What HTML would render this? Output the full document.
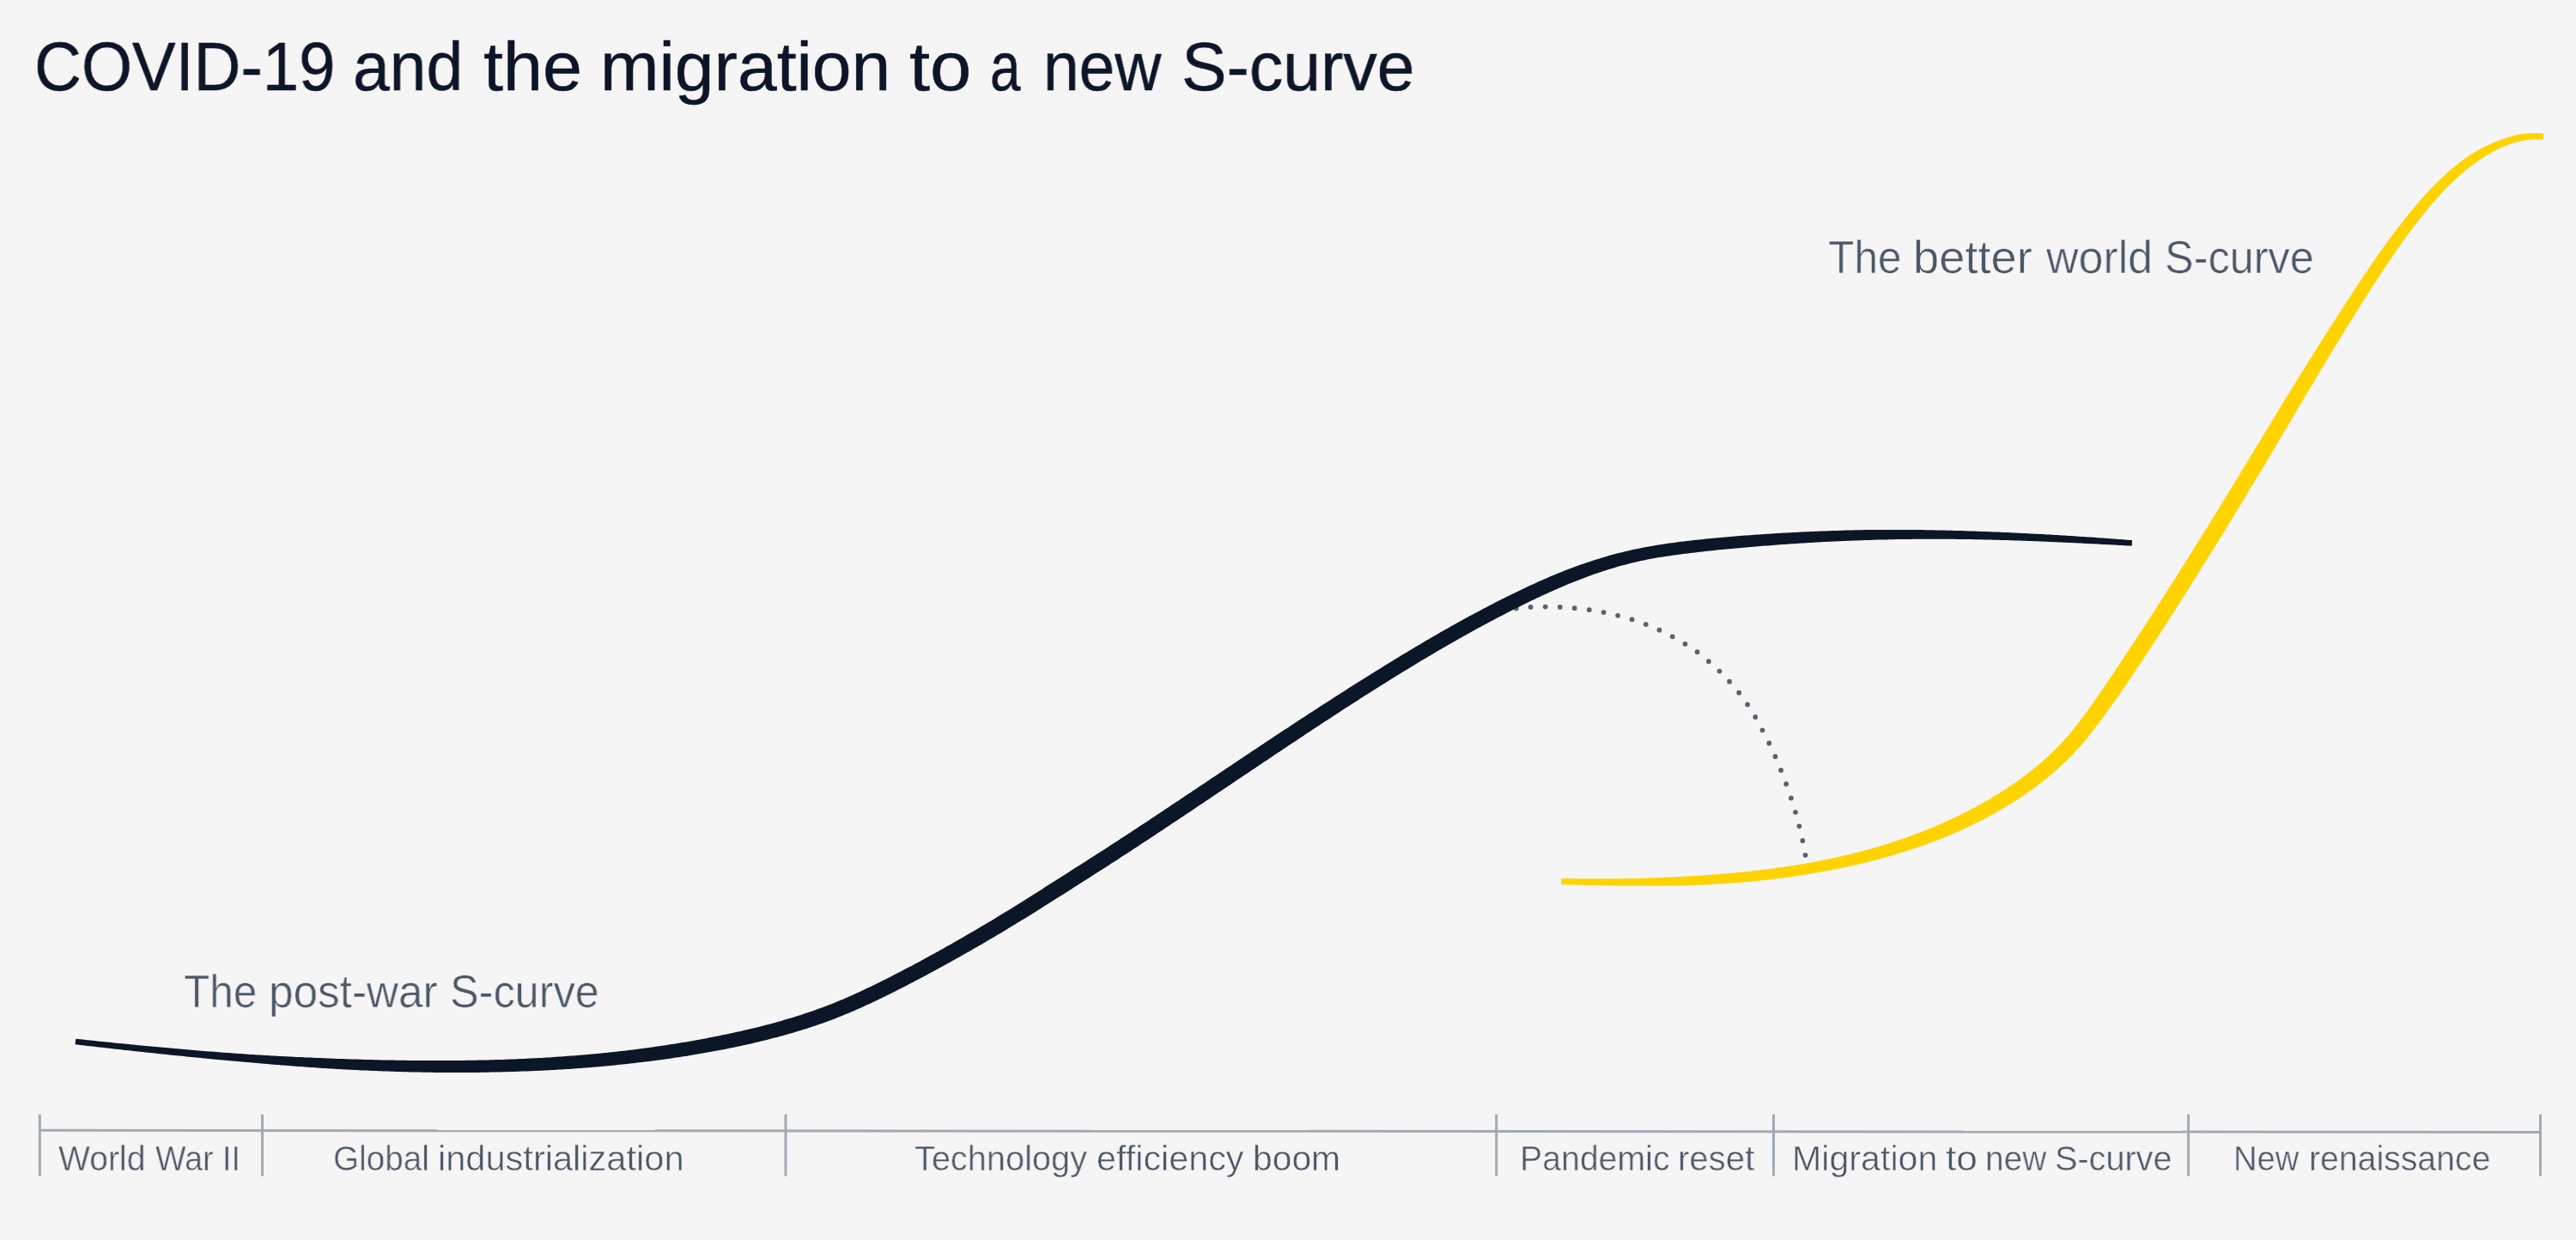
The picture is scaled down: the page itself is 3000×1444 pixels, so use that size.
<!DOCTYPE html>
<html><head><meta charset="utf-8"><style>
html,body{margin:0;padding:0;}
body{width:3000px;height:1444px;background:#f5f5f5;position:relative;overflow:hidden;font-family:"Liberation Sans",sans-serif;}
.t{position:absolute;white-space:nowrap;line-height:1;transform-origin:0 0;font-weight:400;will-change:transform;}
svg{position:absolute;left:0;top:0;}
</style></head><body>
<svg width="3000" height="1444" viewBox="0 0 3000 1444">
<g fill="#a2abb3"><polygon points="46.3,1314.8 2959.9,1316.9 2959.9,1319.9 46.3,1317.8"/><rect x="44.8" y="1297.7" width="3" height="71.8"/><rect x="304.0" y="1297.7" width="3" height="71.8"/><rect x="913.5" y="1297.7" width="3" height="71.8"/><rect x="1741.2" y="1297.7" width="3" height="71.8"/><rect x="2064.0" y="1297.7" width="3" height="71.8"/><rect x="2547.1" y="1297.7" width="3" height="71.8"/><rect x="2957.0" y="1297.7" width="3" height="71.8"/></g>
<g fill="#59636f"><circle cx="1765.8" cy="708.4" r="2.9"/><circle cx="1782.6" cy="706.9" r="2.9"/><circle cx="1799.7" cy="706.6" r="2.9"/><circle cx="1816.8" cy="706.9" r="2.9"/><circle cx="1833.7" cy="708.2" r="2.9"/><circle cx="1850.8" cy="710.2" r="2.9"/><circle cx="1867.6" cy="713.1" r="2.9"/><circle cx="1884.1" cy="716.8" r="2.9"/><circle cx="1900.6" cy="721.4" r="2.9"/><circle cx="1916.8" cy="727.1" r="2.9"/><circle cx="1932.5" cy="733.7" r="2.9"/><circle cx="1947.7" cy="741.3" r="2.9"/><circle cx="1962.5" cy="749.9" r="2.9"/><circle cx="1976.6" cy="759.2" r="2.9"/><circle cx="1989.9" cy="770.2" r="2.9"/><circle cx="2002.5" cy="781.6" r="2.9"/><circle cx="2014.1" cy="793.7" r="2.9"/><circle cx="2025.2" cy="806.7" r="2.9"/><circle cx="2035.1" cy="820.5" r="2.9"/><circle cx="2044.3" cy="835" r="2.9"/><circle cx="2052.5" cy="850.3" r="2.9"/><circle cx="2060.3" cy="865.5" r="2.9"/><circle cx="2067.5" cy="881" r="2.9"/><circle cx="2074.1" cy="897" r="2.9"/><circle cx="2080.1" cy="912.9" r="2.9"/><circle cx="2085.9" cy="929.4" r="2.9"/><circle cx="2091" cy="945.8" r="2.9"/><circle cx="2095.4" cy="962.1" r="2.9"/><circle cx="2099.3" cy="979" r="2.9"/><circle cx="2102.5" cy="995.8" r="2.9"/></g>
<path d="M87.5,1216.2 L90.3,1216.5 L93.2,1216.9 L96.0,1217.2 L98.8,1217.5 L101.6,1217.9 L104.4,1218.2 L107.3,1218.5 L110.1,1218.8 L112.9,1219.2 L115.7,1219.5 L118.5,1219.8 L121.3,1220.1 L124.2,1220.4 L127.0,1220.8 L129.8,1221.1 L132.6,1221.4 L135.4,1221.7 L138.3,1222.0 L141.1,1222.3 L143.9,1222.7 L146.7,1223.0 L149.5,1223.3 L152.4,1223.6 L155.2,1223.9 L158.0,1224.2 L160.8,1224.5 L163.6,1224.8 L166.5,1225.1 L169.3,1225.4 L172.1,1225.7 L174.9,1226.0 L177.7,1226.3 L180.6,1226.6 L183.4,1226.9 L186.2,1227.2 L189.0,1227.5 L191.9,1227.8 L194.7,1228.1 L197.5,1228.4 L200.3,1228.7 L203.1,1229.0 L206.0,1229.3 L208.8,1229.6 L211.6,1229.8 L214.4,1230.1 L217.3,1230.4 L220.1,1230.7 L222.9,1231.0 L225.7,1231.3 L228.6,1231.5 L231.4,1231.8 L234.2,1232.1 L237.0,1232.4 L239.9,1232.6 L242.7,1232.9 L245.5,1233.2 L248.3,1233.4 L251.2,1233.7 L254.0,1234.0 L256.8,1234.2 L259.6,1234.5 L262.5,1234.8 L265.3,1235.0 L268.1,1235.3 L270.9,1235.5 L273.8,1235.8 L276.6,1236.0 L279.4,1236.3 L282.2,1236.5 L285.1,1236.8 L287.9,1237.0 L290.7,1237.3 L293.5,1237.5 L296.4,1237.8 L299.2,1238.0 L302.0,1238.3 L304.9,1238.5 L307.7,1238.7 L310.5,1239.0 L313.3,1239.2 L316.2,1239.4 L319.0,1239.7 L321.8,1239.9 L324.7,1240.1 L327.5,1240.4 L330.3,1240.6 L333.1,1240.8 L336.0,1241.0 L338.8,1241.3 L341.6,1241.5 L344.5,1241.7 L347.3,1241.9 L350.1,1242.1 L353.0,1242.3 L355.8,1242.5 L358.6,1242.7 L361.5,1242.9 L364.3,1243.1 L367.1,1243.3 L370.0,1243.5 L372.8,1243.7 L375.6,1243.9 L378.5,1244.1 L381.3,1244.2 L384.1,1244.4 L387.0,1244.6 L389.8,1244.7 L392.6,1244.9 L395.5,1245.1 L398.3,1245.2 L401.1,1245.4 L404.0,1245.5 L406.8,1245.7 L409.6,1245.8 L412.5,1246.0 L415.3,1246.1 L418.1,1246.2 L421.0,1246.4 L423.8,1246.5 L426.7,1246.6 L429.5,1246.8 L432.3,1246.9 L435.2,1247.0 L438.0,1247.1 L440.8,1247.2 L443.7,1247.3 L446.5,1247.4 L449.4,1247.5 L452.2,1247.6 L455.0,1247.7 L457.9,1247.8 L460.7,1247.9 L463.6,1248.0 L466.4,1248.1 L469.2,1248.2 L472.1,1248.2 L474.9,1248.3 L477.8,1248.4 L480.6,1248.4 L483.4,1248.5 L486.3,1248.6 L489.1,1248.6 L492.0,1248.7 L494.8,1248.7 L497.6,1248.8 L500.5,1248.8 L503.3,1248.8 L506.2,1248.9 L509.0,1248.9 L511.9,1248.9 L514.7,1248.9 L517.5,1249.0 L520.4,1249.0 L523.2,1249.0 L526.1,1249.0 L528.9,1249.0 L531.8,1249.0 L534.6,1249.0 L537.5,1249.0 L540.3,1249.0 L543.1,1249.0 L546.0,1249.0 L548.8,1248.9 L551.7,1248.9 L554.5,1248.9 L557.4,1248.9 L560.2,1248.8 L563.1,1248.8 L565.9,1248.7 L568.8,1248.7 L571.6,1248.6 L574.4,1248.6 L577.3,1248.5 L580.1,1248.5 L583.0,1248.4 L585.8,1248.3 L588.7,1248.3 L591.5,1248.2 L594.4,1248.1 L597.2,1248.0 L600.1,1247.9 L602.9,1247.8 L605.7,1247.7 L608.6,1247.6 L611.4,1247.5 L614.3,1247.4 L617.1,1247.3 L620.0,1247.2 L622.8,1247.1 L625.7,1246.9 L628.5,1246.8 L631.4,1246.7 L634.2,1246.5 L637.0,1246.4 L639.9,1246.2 L642.7,1246.1 L645.6,1245.9 L648.4,1245.7 L651.3,1245.6 L654.1,1245.4 L656.9,1245.2 L659.8,1245.0 L662.6,1244.9 L665.5,1244.7 L668.3,1244.5 L671.1,1244.3 L674.0,1244.1 L676.8,1243.9 L679.7,1243.6 L682.5,1243.4 L685.3,1243.2 L688.2,1243.0 L691.0,1242.7 L693.9,1242.5 L696.7,1242.2 L699.5,1242.0 L702.4,1241.7 L705.2,1241.5 L708.0,1241.2 L710.9,1241.0 L713.7,1240.7 L716.6,1240.4 L719.4,1240.1 L722.2,1239.8 L725.1,1239.5 L727.9,1239.2 L730.7,1238.9 L733.5,1238.6 L736.4,1238.3 L739.2,1238.0 L742.0,1237.6 L744.9,1237.3 L747.7,1237.0 L750.5,1236.6 L753.4,1236.3 L756.2,1235.9 L759.0,1235.6 L761.8,1235.2 L764.7,1234.8 L767.5,1234.4 L770.3,1234.1 L773.1,1233.7 L776.0,1233.3 L778.8,1232.9 L781.6,1232.5 L784.4,1232.0 L787.2,1231.6 L790.1,1231.2 L792.9,1230.8 L795.7,1230.3 L798.5,1229.9 L801.3,1229.4 L804.1,1229.0 L807.0,1228.5 L809.8,1228.0 L812.6,1227.6 L815.4,1227.1 L818.2,1226.6 L821.0,1226.1 L823.8,1225.6 L826.6,1225.1 L829.5,1224.6 L832.3,1224.1 L835.1,1223.5 L837.9,1223.0 L840.7,1222.5 L843.5,1221.9 L846.3,1221.4 L849.1,1220.8 L851.9,1220.2 L854.7,1219.7 L857.5,1219.1 L860.3,1218.5 L863.1,1217.9 L865.9,1217.3 L868.7,1216.7 L871.5,1216.0 L874.3,1215.4 L877.1,1214.8 L879.8,1214.1 L882.6,1213.5 L885.4,1212.8 L888.2,1212.1 L891.0,1211.4 L893.8,1210.7 L896.5,1210.0 L899.3,1209.3 L902.1,1208.6 L904.9,1207.9 L907.6,1207.1 L910.4,1206.4 L913.2,1205.6 L915.9,1204.8 L918.7,1204.1 L921.4,1203.3 L924.2,1202.5 L926.9,1201.6 L929.7,1200.8 L932.4,1200.0 L935.2,1199.1 L937.9,1198.3 L940.6,1197.4 L943.3,1196.5 L946.1,1195.6 L948.8,1194.7 L951.5,1193.8 L954.2,1192.8 L956.9,1191.9 L959.6,1190.9 L962.3,1189.9 L965.0,1188.9 L967.7,1187.9 L970.4,1186.9 L973.1,1185.9 L975.8,1184.8 L978.5,1183.8 L981.1,1182.7 L983.8,1181.6 L986.4,1180.5 L989.1,1179.4 L991.7,1178.3 L994.4,1177.2 L997.0,1176.0 L999.6,1174.8 L1002.3,1173.7 L1004.9,1172.5 L1007.5,1171.3 L1010.1,1170.1 L1012.7,1168.9 L1015.3,1167.7 L1017.9,1166.5 L1020.5,1165.2 L1023.0,1164.0 L1025.6,1162.8 L1028.2,1161.5 L1030.7,1160.3 L1033.3,1159.0 L1035.9,1157.7 L1038.4,1156.5 L1041.0,1155.2 L1043.5,1153.9 L1046.1,1152.6 L1048.6,1151.3 L1051.2,1150.0 L1053.7,1148.7 L1056.3,1147.4 L1058.8,1146.1 L1061.3,1144.8 L1063.9,1143.5 L1066.4,1142.1 L1068.9,1140.8 L1071.4,1139.5 L1073.9,1138.2 L1076.5,1136.8 L1079.0,1135.5 L1081.5,1134.1 L1084.0,1132.8 L1086.5,1131.4 L1089.0,1130.1 L1091.5,1128.7 L1094.0,1127.3 L1096.5,1126.0 L1099.0,1124.6 L1101.5,1123.2 L1104.0,1121.8 L1106.5,1120.5 L1109.0,1119.1 L1111.4,1117.7 L1113.9,1116.3 L1116.4,1114.9 L1118.9,1113.5 L1121.4,1112.1 L1123.8,1110.7 L1126.3,1109.3 L1128.8,1107.9 L1131.3,1106.5 L1133.7,1105.1 L1136.2,1103.6 L1138.7,1102.2 L1141.1,1100.8 L1143.6,1099.4 L1146.0,1097.9 L1148.5,1096.5 L1150.9,1095.1 L1153.4,1093.6 L1155.9,1092.2 L1158.3,1090.7 L1160.7,1089.3 L1163.2,1087.8 L1165.6,1086.4 L1168.1,1084.9 L1170.5,1083.4 L1173.0,1082.0 L1175.4,1080.5 L1177.8,1079.0 L1180.3,1077.6 L1182.7,1076.1 L1185.1,1074.6 L1187.6,1073.1 L1190.0,1071.6 L1192.4,1070.2 L1194.8,1068.7 L1197.2,1067.2 L1199.7,1065.7 L1202.1,1064.2 L1204.5,1062.7 L1206.9,1061.2 L1209.3,1059.7 L1211.7,1058.2 L1214.1,1056.6 L1216.5,1055.1 L1218.9,1053.6 L1221.4,1052.1 L1223.8,1050.6 L1226.1,1049.1 L1228.5,1047.5 L1230.9,1046.0 L1233.3,1044.5 L1235.7,1043.0 L1238.1,1041.5 L1240.5,1039.9 L1242.9,1038.4 L1245.3,1036.9 L1247.7,1035.4 L1250.1,1033.8 L1252.5,1032.3 L1254.9,1030.8 L1257.2,1029.3 L1259.6,1027.8 L1262.0,1026.2 L1264.4,1024.7 L1266.8,1023.2 L1269.2,1021.7 L1271.6,1020.1 L1274.0,1018.6 L1276.4,1017.1 L1278.8,1015.6 L1281.2,1014.0 L1283.6,1012.5 L1286.0,1011.0 L1288.3,1009.4 L1290.7,1007.9 L1293.1,1006.3 L1295.5,1004.8 L1297.9,1003.3 L1300.3,1001.7 L1302.7,1000.2 L1305.0,998.6 L1307.4,997.1 L1309.8,995.5 L1312.2,994.0 L1314.6,992.4 L1316.9,990.9 L1319.3,989.3 L1321.7,987.8 L1324.1,986.2 L1326.4,984.7 L1328.8,983.1 L1331.2,981.5 L1333.5,980.0 L1335.9,978.4 L1338.3,976.9 L1340.7,975.3 L1343.0,973.7 L1345.4,972.2 L1347.8,970.6 L1350.1,969.0 L1352.5,967.5 L1354.9,965.9 L1357.2,964.3 L1359.6,962.8 L1361.9,961.2 L1364.3,959.6 L1366.7,958.0 L1369.0,956.5 L1371.4,954.9 L1373.8,953.3 L1376.1,951.8 L1378.5,950.2 L1380.8,948.6 L1383.2,947.0 L1385.6,945.5 L1387.9,943.9 L1390.3,942.3 L1392.6,940.7 L1395.0,939.1 L1397.3,937.6 L1399.7,936.0 L1402.1,934.4 L1404.4,932.8 L1406.8,931.2 L1409.1,929.7 L1411.5,928.1 L1413.8,926.5 L1416.2,924.9 L1418.5,923.3 L1420.9,921.8 L1423.2,920.2 L1425.6,918.6 L1428.0,917.0 L1430.3,915.4 L1432.7,913.9 L1435.0,912.3 L1437.4,910.7 L1439.7,909.1 L1442.1,907.5 L1444.4,906.0 L1446.8,904.4 L1449.1,902.8 L1451.5,901.2 L1453.8,899.7 L1456.2,898.1 L1458.5,896.5 L1460.9,894.9 L1463.3,893.3 L1465.6,891.8 L1468.0,890.2 L1470.3,888.6 L1472.7,887.0 L1475.0,885.4 L1477.4,883.9 L1479.7,882.3 L1482.1,880.7 L1484.4,879.1 L1486.8,877.6 L1489.1,876.0 L1491.5,874.4 L1493.9,872.8 L1496.2,871.3 L1498.6,869.7 L1500.9,868.1 L1503.3,866.6 L1505.6,865.0 L1508.0,863.4 L1510.3,861.9 L1512.7,860.3 L1515.1,858.7 L1517.4,857.2 L1519.8,855.6 L1522.1,854.0 L1524.5,852.5 L1526.9,850.9 L1529.2,849.3 L1531.6,847.8 L1534.0,846.2 L1536.3,844.7 L1538.7,843.1 L1541.0,841.6 L1543.4,840.0 L1545.8,838.5 L1548.1,836.9 L1550.5,835.4 L1552.9,833.8 L1555.3,832.3 L1557.6,830.7 L1560.0,829.2 L1562.4,827.6 L1564.7,826.1 L1567.1,824.6 L1569.5,823.0 L1571.9,821.5 L1574.2,820.0 L1576.6,818.4 L1579.0,816.9 L1581.4,815.4 L1583.8,813.8 L1586.1,812.3 L1588.5,810.8 L1590.9,809.3 L1593.3,807.8 L1595.7,806.2 L1598.1,804.7 L1600.5,803.2 L1602.9,801.7 L1605.3,800.2 L1607.6,798.7 L1610.0,797.2 L1612.4,795.7 L1614.8,794.2 L1617.2,792.7 L1619.6,791.2 L1622.0,789.7 L1624.4,788.2 L1626.8,786.7 L1629.3,785.3 L1631.7,783.8 L1634.1,782.3 L1636.5,780.8 L1638.9,779.4 L1641.3,777.9 L1643.7,776.4 L1646.1,775.0 L1648.6,773.5 L1651.0,772.0 L1653.4,770.6 L1655.8,769.1 L1658.2,767.7 L1660.7,766.2 L1663.1,764.8 L1665.5,763.4 L1668.0,761.9 L1670.4,760.5 L1672.8,759.1 L1675.3,757.6 L1677.7,756.2 L1680.1,754.8 L1682.6,753.4 L1685.0,752.0 L1687.5,750.6 L1689.9,749.2 L1692.4,747.8 L1694.8,746.4 L1697.3,745.0 L1699.7,743.6 L1702.2,742.2 L1704.6,740.8 L1707.1,739.5 L1709.6,738.1 L1712.0,736.7 L1714.5,735.3 L1717.0,734.0 L1719.4,732.6 L1721.9,731.3 L1724.4,729.9 L1726.9,728.6 L1729.3,727.3 L1731.8,725.9 L1734.3,724.6 L1736.8,723.3 L1739.3,722.0 L1741.8,720.6 L1744.3,719.3 L1746.8,718.0 L1749.3,716.7 L1751.8,715.4 L1754.3,714.1 L1756.8,712.8 L1759.3,711.6 L1761.8,710.3 L1764.3,709.0 L1766.9,707.8 L1769.4,706.5 L1771.9,705.2 L1774.4,704.0 L1776.9,702.8 L1779.5,701.5 L1782.0,700.3 L1784.5,699.1 L1787.1,697.9 L1789.6,696.6 L1792.2,695.5 L1794.7,694.3 L1797.3,693.1 L1799.8,691.9 L1802.4,690.7 L1804.9,689.6 L1807.5,688.4 L1810.0,687.3 L1812.6,686.2 L1815.2,685.0 L1817.8,683.9 L1820.3,682.8 L1822.9,681.7 L1825.5,680.6 L1828.1,679.6 L1830.7,678.5 L1833.3,677.5 L1835.9,676.4 L1838.5,675.4 L1841.1,674.4 L1843.7,673.4 L1846.3,672.4 L1848.9,671.4 L1851.6,670.5 L1854.2,669.5 L1856.8,668.6 L1859.5,667.7 L1862.1,666.8 L1864.8,665.9 L1867.4,665.0 L1870.1,664.2 L1872.7,663.3 L1875.4,662.5 L1878.1,661.7 L1880.7,660.9 L1883.4,660.1 L1886.1,659.3 L1888.8,658.6 L1891.5,657.9 L1894.2,657.2 L1896.8,656.5 L1899.5,655.8 L1902.3,655.2 L1905.0,654.5 L1907.7,653.9 L1910.4,653.3 L1913.1,652.7 L1915.9,652.2 L1918.6,651.6 L1921.3,651.1 L1924.1,650.6 L1926.8,650.1 L1929.6,649.6 L1932.4,649.1 L1935.1,648.7 L1937.9,648.2 L1940.7,647.8 L1943.4,647.4 L1946.2,647.0 L1949.0,646.6 L1951.8,646.2 L1954.6,645.8 L1957.4,645.4 L1960.1,645.1 L1962.9,644.7 L1965.7,644.4 L1968.5,644.0 L1971.3,643.7 L1974.1,643.4 L1977.0,643.0 L1979.8,642.7 L1982.6,642.4 L1985.4,642.1 L1988.2,641.8 L1991.0,641.5 L1993.8,641.2 L1996.6,640.9 L1999.4,640.6 L2002.3,640.3 L2005.1,640.1 L2007.9,639.8 L2010.7,639.5 L2013.5,639.3 L2016.3,639.0 L2019.1,638.7 L2021.9,638.5 L2024.8,638.2 L2027.6,638.0 L2030.4,637.7 L2033.2,637.5 L2036.0,637.2 L2038.8,637.0 L2041.7,636.7 L2044.5,636.5 L2047.3,636.3 L2050.1,636.1 L2052.9,635.8 L2055.8,635.6 L2058.6,635.4 L2061.4,635.2 L2064.2,635.0 L2067.0,634.7 L2069.9,634.5 L2072.7,634.3 L2075.5,634.1 L2078.3,633.9 L2081.1,633.7 L2084.0,633.5 L2086.8,633.3 L2089.6,633.2 L2092.4,633.0 L2095.2,632.8 L2098.1,632.6 L2100.9,632.4 L2103.7,632.3 L2106.5,632.1 L2109.4,631.9 L2112.2,631.8 L2115.0,631.6 L2117.8,631.4 L2120.6,631.3 L2123.5,631.1 L2126.3,631.0 L2129.1,630.8 L2131.9,630.7 L2134.8,630.6 L2137.6,630.4 L2140.4,630.3 L2143.2,630.2 L2146.1,630.0 L2148.9,629.9 L2151.7,629.8 L2154.5,629.7 L2157.3,629.6 L2160.2,629.5 L2163.0,629.4 L2165.8,629.3 L2168.6,629.2 L2171.5,629.1 L2174.3,629.0 L2177.1,628.9 L2179.9,628.8 L2182.8,628.7 L2185.6,628.6 L2188.4,628.6 L2191.2,628.5 L2194.1,628.4 L2196.9,628.4 L2199.7,628.3 L2202.5,628.2 L2205.4,628.2 L2208.2,628.1 L2211.0,628.1 L2213.9,628.0 L2216.7,628.0 L2219.5,627.9 L2222.3,627.9 L2225.2,627.9 L2228.0,627.8 L2230.8,627.8 L2233.7,627.8 L2236.5,627.7 L2239.3,627.7 L2242.1,627.7 L2245.0,627.7 L2247.8,627.7 L2250.6,627.7 L2253.5,627.7 L2256.3,627.7 L2259.1,627.7 L2261.9,627.7 L2264.8,627.7 L2267.6,627.8 L2270.4,627.8 L2273.3,627.8 L2276.1,627.8 L2278.9,627.9 L2281.8,627.9 L2284.6,627.9 L2287.4,628.0 L2290.2,628.0 L2293.1,628.1 L2295.9,628.1 L2298.7,628.2 L2301.6,628.2 L2304.4,628.3 L2307.2,628.3 L2310.1,628.4 L2312.9,628.5 L2315.7,628.5 L2318.6,628.6 L2321.4,628.7 L2324.2,628.7 L2327.1,628.8 L2329.9,628.9 L2332.7,629.0 L2335.5,629.1 L2338.4,629.1 L2341.2,629.2 L2344.0,629.3 L2346.9,629.4 L2349.7,629.5 L2352.5,629.6 L2355.4,629.7 L2358.2,629.8 L2361.0,629.9 L2363.9,630.0 L2366.7,630.1 L2369.5,630.2 L2372.3,630.3 L2375.2,630.4 L2378.0,630.6 L2380.8,630.7 L2383.7,630.8 L2386.5,630.9 L2389.3,631.0 L2392.2,631.2 L2395.0,631.3 L2397.8,631.4 L2400.7,631.5 L2403.5,631.7 L2406.3,631.8 L2409.1,631.9 L2412.0,632.1 L2414.8,632.2 L2417.6,632.3 L2420.5,632.5 L2423.3,632.6 L2426.1,632.7 L2428.9,632.9 L2431.8,633.0 L2434.6,633.2 L2437.4,633.3 L2440.3,633.5 L2443.1,633.6 L2445.9,633.7 L2448.7,633.9 L2451.6,634.0 L2454.4,634.2 L2457.2,634.3 L2460.1,634.5 L2462.9,634.6 L2465.7,634.8 L2468.5,634.9 L2471.4,635.1 L2474.2,635.3 L2477.0,635.4 L2479.8,635.6 L2482.7,635.7 L2483.1,629.1 L2480.3,628.9 L2477.5,628.7 L2474.6,628.5 L2471.8,628.3 L2469.0,628.1 L2466.2,627.9 L2463.3,627.6 L2460.5,627.4 L2457.7,627.2 L2454.9,627.0 L2452.0,626.8 L2449.2,626.6 L2446.4,626.4 L2443.5,626.2 L2440.7,626.0 L2437.9,625.8 L2435.1,625.6 L2432.2,625.4 L2429.4,625.3 L2426.6,625.1 L2423.7,624.9 L2420.9,624.7 L2418.1,624.5 L2415.2,624.3 L2412.4,624.1 L2409.6,624.0 L2406.7,623.8 L2403.9,623.6 L2401.1,623.4 L2398.2,623.3 L2395.4,623.1 L2392.6,622.9 L2389.8,622.8 L2386.9,622.6 L2384.1,622.4 L2381.2,622.3 L2378.4,622.1 L2375.6,622.0 L2372.7,621.8 L2369.9,621.7 L2367.1,621.5 L2364.2,621.4 L2361.4,621.2 L2358.6,621.1 L2355.7,620.9 L2352.9,620.8 L2350.1,620.7 L2347.2,620.5 L2344.4,620.4 L2341.6,620.3 L2338.7,620.1 L2335.9,620.0 L2333.0,619.9 L2330.2,619.8 L2327.4,619.6 L2324.5,619.5 L2321.7,619.4 L2318.9,619.3 L2316.0,619.2 L2313.2,619.1 L2310.3,619.0 L2307.5,618.9 L2304.7,618.8 L2301.8,618.7 L2299.0,618.6 L2296.2,618.5 L2293.3,618.4 L2290.5,618.3 L2287.6,618.2 L2284.8,618.1 L2282.0,618.0 L2279.1,618.0 L2276.3,617.9 L2273.4,617.8 L2270.6,617.7 L2267.8,617.7 L2264.9,617.6 L2262.1,617.6 L2259.2,617.5 L2256.4,617.4 L2253.6,617.4 L2250.7,617.3 L2247.9,617.3 L2245.0,617.2 L2242.2,617.2 L2239.4,617.1 L2236.5,617.1 L2233.7,617.1 L2230.8,617.0 L2228.0,617.0 L2225.2,617.0 L2222.3,616.9 L2219.5,616.9 L2216.6,616.9 L2213.8,616.9 L2211.0,616.9 L2208.1,616.9 L2205.3,616.9 L2202.4,616.9 L2199.6,616.9 L2196.7,616.9 L2193.9,616.9 L2191.1,616.9 L2188.2,616.9 L2185.4,616.9 L2182.5,617.0 L2179.7,617.0 L2176.9,617.0 L2174.0,617.1 L2171.2,617.1 L2168.3,617.2 L2165.5,617.2 L2162.6,617.3 L2159.8,617.3 L2157.0,617.4 L2154.1,617.5 L2151.3,617.5 L2148.4,617.6 L2145.6,617.7 L2142.8,617.8 L2139.9,617.9 L2137.1,618.0 L2134.2,618.1 L2131.4,618.2 L2128.6,618.3 L2125.7,618.4 L2122.9,618.5 L2120.0,618.6 L2117.2,618.7 L2114.4,618.8 L2111.5,618.9 L2108.7,619.1 L2105.9,619.2 L2103.0,619.3 L2100.2,619.5 L2097.3,619.6 L2094.5,619.7 L2091.7,619.9 L2088.8,620.0 L2086.0,620.2 L2083.2,620.3 L2080.3,620.5 L2077.5,620.6 L2074.6,620.8 L2071.8,621.0 L2069.0,621.1 L2066.1,621.3 L2063.3,621.5 L2060.5,621.7 L2057.6,621.8 L2054.8,622.0 L2051.9,622.2 L2049.1,622.4 L2046.3,622.6 L2043.4,622.8 L2040.6,623.0 L2037.8,623.2 L2034.9,623.4 L2032.1,623.6 L2029.3,623.8 L2026.4,624.1 L2023.6,624.3 L2020.7,624.5 L2017.9,624.7 L2015.1,625.0 L2012.2,625.2 L2009.4,625.5 L2006.6,625.7 L2003.7,626.0 L2000.9,626.2 L1998.1,626.5 L1995.2,626.8 L1992.4,627.0 L1989.5,627.3 L1986.7,627.6 L1983.9,627.9 L1981.0,628.2 L1978.2,628.5 L1975.4,628.8 L1972.5,629.1 L1969.7,629.4 L1966.9,629.7 L1964.0,630.1 L1961.2,630.4 L1958.3,630.8 L1955.5,631.1 L1952.7,631.5 L1949.8,631.9 L1947.0,632.2 L1944.2,632.6 L1941.3,633.1 L1938.5,633.5 L1935.6,633.9 L1932.8,634.3 L1930.0,634.8 L1927.2,635.3 L1924.3,635.7 L1921.5,636.2 L1918.7,636.7 L1915.8,637.3 L1913.0,637.8 L1910.2,638.4 L1907.4,638.9 L1904.6,639.5 L1901.7,640.1 L1898.9,640.7 L1896.1,641.4 L1893.3,642.0 L1890.5,642.7 L1887.7,643.4 L1884.9,644.1 L1882.1,644.8 L1879.4,645.6 L1876.6,646.3 L1873.8,647.1 L1871.0,647.9 L1868.3,648.7 L1865.5,649.5 L1862.8,650.4 L1860.0,651.2 L1857.3,652.1 L1854.5,653.0 L1851.8,653.9 L1849.1,654.8 L1846.3,655.7 L1843.6,656.7 L1840.9,657.6 L1838.2,658.6 L1835.5,659.6 L1832.8,660.6 L1830.1,661.6 L1827.4,662.6 L1824.8,663.6 L1822.1,664.6 L1819.4,665.7 L1816.7,666.8 L1814.1,667.8 L1811.4,668.9 L1808.8,670.0 L1806.1,671.1 L1803.5,672.2 L1800.9,673.4 L1798.2,674.5 L1795.6,675.7 L1793.0,676.8 L1790.4,678.0 L1787.8,679.2 L1785.2,680.4 L1782.6,681.6 L1780.0,682.8 L1777.4,684.0 L1774.8,685.2 L1772.2,686.4 L1769.6,687.7 L1767.1,688.9 L1764.5,690.2 L1761.9,691.4 L1759.4,692.7 L1756.8,693.9 L1754.2,695.2 L1751.7,696.5 L1749.1,697.8 L1746.6,699.0 L1744.0,700.3 L1741.5,701.6 L1739.0,702.9 L1736.4,704.2 L1733.9,705.6 L1731.4,706.9 L1728.8,708.2 L1726.3,709.5 L1723.8,710.9 L1721.3,712.2 L1718.8,713.5 L1716.3,714.9 L1713.8,716.2 L1711.2,717.6 L1708.7,719.0 L1706.2,720.3 L1703.7,721.7 L1701.3,723.1 L1698.8,724.5 L1696.3,725.8 L1693.8,727.2 L1691.3,728.6 L1688.8,730.0 L1686.3,731.4 L1683.9,732.8 L1681.4,734.2 L1678.9,735.6 L1676.4,737.0 L1674.0,738.5 L1671.5,739.9 L1669.0,741.3 L1666.6,742.7 L1664.1,744.2 L1661.7,745.6 L1659.2,747.1 L1656.7,748.5 L1654.3,749.9 L1651.8,751.4 L1649.4,752.8 L1647.0,754.3 L1644.5,755.8 L1642.1,757.2 L1639.6,758.7 L1637.2,760.2 L1634.8,761.6 L1632.3,763.1 L1629.9,764.6 L1627.5,766.0 L1625.0,767.5 L1622.6,769.0 L1620.2,770.5 L1617.8,772.0 L1615.3,773.5 L1612.9,775.0 L1610.5,776.5 L1608.1,778.0 L1605.7,779.5 L1603.2,781.0 L1600.8,782.5 L1598.4,784.0 L1596.0,785.5 L1593.6,787.0 L1591.2,788.5 L1588.8,790.0 L1586.4,791.5 L1584.0,793.0 L1581.6,794.5 L1579.2,796.1 L1576.8,797.6 L1574.4,799.1 L1572.0,800.6 L1569.6,802.1 L1567.2,803.7 L1564.8,805.2 L1562.4,806.7 L1560.0,808.2 L1557.6,809.8 L1555.2,811.3 L1552.8,812.8 L1550.4,814.4 L1548.0,815.9 L1545.7,817.4 L1543.3,819.0 L1540.9,820.5 L1538.5,822.1 L1536.1,823.6 L1533.7,825.2 L1531.3,826.7 L1529.0,828.2 L1526.6,829.8 L1524.2,831.3 L1521.8,832.9 L1519.4,834.4 L1517.1,836.0 L1514.7,837.5 L1512.3,839.1 L1509.9,840.7 L1507.6,842.2 L1505.2,843.8 L1502.8,845.3 L1500.5,846.9 L1498.1,848.4 L1495.7,850.0 L1493.3,851.6 L1491.0,853.1 L1488.6,854.7 L1486.2,856.3 L1483.9,857.8 L1481.5,859.4 L1479.1,861.0 L1476.8,862.5 L1474.4,864.1 L1472.0,865.7 L1469.7,867.2 L1467.3,868.8 L1465.0,870.4 L1462.6,871.9 L1460.2,873.5 L1457.9,875.1 L1455.5,876.7 L1453.2,878.2 L1450.8,879.8 L1448.4,881.4 L1446.1,883.0 L1443.7,884.5 L1441.4,886.1 L1439.0,887.7 L1436.6,889.3 L1434.3,890.9 L1431.9,892.4 L1429.6,894.0 L1427.2,895.6 L1424.9,897.2 L1422.5,898.7 L1420.2,900.3 L1417.8,901.9 L1415.5,903.5 L1413.1,905.1 L1410.7,906.6 L1408.4,908.2 L1406.0,909.8 L1403.7,911.4 L1401.3,912.9 L1399.0,914.5 L1396.6,916.1 L1394.3,917.7 L1391.9,919.3 L1389.5,920.8 L1387.2,922.4 L1384.8,924.0 L1382.5,925.6 L1380.1,927.1 L1377.8,928.7 L1375.4,930.3 L1373.1,931.9 L1370.7,933.4 L1368.3,935.0 L1366.0,936.6 L1363.6,938.1 L1361.3,939.7 L1358.9,941.3 L1356.6,942.8 L1354.2,944.4 L1351.8,946.0 L1349.5,947.5 L1347.1,949.1 L1344.8,950.7 L1342.4,952.2 L1340.0,953.8 L1337.7,955.4 L1335.3,956.9 L1333.0,958.5 L1330.6,960.0 L1328.2,961.6 L1325.9,963.2 L1323.5,964.7 L1321.1,966.3 L1318.8,967.8 L1316.4,969.4 L1314.0,970.9 L1311.7,972.5 L1309.3,974.0 L1306.9,975.6 L1304.6,977.1 L1302.2,978.7 L1299.8,980.2 L1297.4,981.8 L1295.1,983.3 L1292.7,984.8 L1290.3,986.4 L1288.0,987.9 L1285.6,989.4 L1283.2,991.0 L1280.8,992.5 L1278.4,994.0 L1276.1,995.6 L1273.7,997.1 L1271.3,998.6 L1268.9,1000.1 L1266.5,1001.7 L1264.2,1003.2 L1261.8,1004.7 L1259.4,1006.2 L1257.0,1007.8 L1254.6,1009.3 L1252.2,1010.8 L1249.8,1012.3 L1247.4,1013.8 L1245.0,1015.4 L1242.6,1016.9 L1240.3,1018.4 L1237.9,1019.9 L1235.5,1021.4 L1233.1,1023.0 L1230.7,1024.5 L1228.3,1026.0 L1225.9,1027.5 L1223.5,1029.1 L1221.1,1030.6 L1218.7,1032.1 L1216.3,1033.6 L1214.0,1035.2 L1211.6,1036.7 L1209.2,1038.2 L1206.8,1039.7 L1204.4,1041.2 L1202.0,1042.7 L1199.6,1044.2 L1197.2,1045.8 L1194.9,1047.3 L1192.5,1048.8 L1190.1,1050.3 L1187.7,1051.7 L1185.3,1053.2 L1182.9,1054.7 L1180.5,1056.2 L1178.1,1057.7 L1175.7,1059.2 L1173.3,1060.7 L1170.9,1062.1 L1168.5,1063.6 L1166.0,1065.1 L1163.6,1066.5 L1161.2,1068.0 L1158.8,1069.5 L1156.4,1070.9 L1154.0,1072.4 L1151.5,1073.8 L1149.1,1075.3 L1146.7,1076.7 L1144.3,1078.1 L1141.8,1079.6 L1139.4,1081.0 L1137.0,1082.5 L1134.5,1083.9 L1132.1,1085.3 L1129.7,1086.7 L1127.2,1088.1 L1124.8,1089.6 L1122.3,1091.0 L1119.9,1092.4 L1117.4,1093.8 L1115.0,1095.2 L1112.5,1096.6 L1110.1,1098.0 L1107.6,1099.4 L1105.2,1100.8 L1102.7,1102.1 L1100.3,1103.5 L1097.8,1104.9 L1095.3,1106.3 L1092.9,1107.7 L1090.4,1109.0 L1087.9,1110.4 L1085.5,1111.8 L1083.0,1113.1 L1080.5,1114.5 L1078.0,1115.8 L1075.5,1117.2 L1073.1,1118.5 L1070.6,1119.9 L1068.1,1121.2 L1065.6,1122.5 L1063.1,1123.9 L1060.6,1125.2 L1058.1,1126.5 L1055.6,1127.8 L1053.1,1129.1 L1050.6,1130.4 L1048.1,1131.7 L1045.6,1133.0 L1043.1,1134.3 L1040.6,1135.6 L1038.1,1136.9 L1035.6,1138.2 L1033.1,1139.4 L1030.6,1140.7 L1028.0,1142.0 L1025.5,1143.2 L1023.0,1144.5 L1020.5,1145.7 L1017.9,1147.0 L1015.4,1148.2 L1012.9,1149.4 L1010.3,1150.6 L1007.8,1151.8 L1005.3,1153.0 L1002.7,1154.2 L1000.2,1155.4 L997.6,1156.6 L995.1,1157.7 L992.5,1158.9 L990.0,1160.0 L987.4,1161.2 L984.8,1162.3 L982.3,1163.4 L979.7,1164.5 L977.1,1165.5 L974.6,1166.6 L972.0,1167.7 L969.4,1168.7 L966.8,1169.7 L964.2,1170.7 L961.6,1171.7 L959.0,1172.7 L956.4,1173.7 L953.8,1174.6 L951.1,1175.6 L948.5,1176.5 L945.9,1177.4 L943.2,1178.3 L940.6,1179.2 L937.9,1180.1 L935.3,1181.0 L932.6,1181.9 L930.0,1182.7 L927.3,1183.6 L924.6,1184.4 L922.0,1185.2 L919.3,1186.0 L916.6,1186.8 L913.9,1187.6 L911.2,1188.4 L908.5,1189.2 L905.8,1189.9 L903.1,1190.7 L900.4,1191.4 L897.7,1192.2 L895.0,1192.9 L892.3,1193.6 L889.6,1194.3 L886.9,1195.0 L884.1,1195.7 L881.4,1196.4 L878.7,1197.0 L875.9,1197.7 L873.2,1198.3 L870.5,1199.0 L867.7,1199.6 L865.0,1200.3 L862.2,1200.9 L859.5,1201.5 L856.7,1202.1 L854.0,1202.7 L851.2,1203.3 L848.5,1203.9 L845.7,1204.5 L843.0,1205.0 L840.2,1205.6 L837.5,1206.2 L834.7,1206.7 L831.9,1207.3 L829.2,1207.8 L826.4,1208.3 L823.6,1208.9 L820.9,1209.4 L818.1,1209.9 L815.3,1210.4 L812.5,1210.9 L809.8,1211.4 L807.0,1211.9 L804.2,1212.4 L801.5,1212.9 L798.7,1213.4 L795.9,1213.8 L793.1,1214.3 L790.3,1214.8 L787.6,1215.2 L784.8,1215.7 L782.0,1216.1 L779.2,1216.5 L776.4,1217.0 L773.6,1217.4 L770.9,1217.8 L768.1,1218.2 L765.3,1218.6 L762.5,1219.0 L759.7,1219.4 L756.9,1219.8 L754.1,1220.2 L751.3,1220.6 L748.5,1220.9 L745.7,1221.3 L742.9,1221.7 L740.1,1222.0 L737.3,1222.4 L734.5,1222.7 L731.8,1223.0 L729.0,1223.4 L726.2,1223.7 L723.4,1224.0 L720.5,1224.3 L717.7,1224.7 L714.9,1225.0 L712.1,1225.3 L709.3,1225.6 L706.5,1225.9 L703.7,1226.1 L700.9,1226.4 L698.1,1226.7 L695.3,1227.0 L692.5,1227.2 L689.7,1227.5 L686.9,1227.8 L684.1,1228.0 L681.3,1228.3 L678.4,1228.5 L675.6,1228.7 L672.8,1229.0 L670.0,1229.2 L667.2,1229.4 L664.4,1229.6 L661.6,1229.8 L658.8,1230.0 L655.9,1230.2 L653.1,1230.4 L650.3,1230.6 L647.5,1230.8 L644.7,1231.0 L641.8,1231.2 L639.0,1231.4 L636.2,1231.5 L633.4,1231.7 L630.6,1231.9 L627.8,1232.0 L624.9,1232.2 L622.1,1232.3 L619.3,1232.5 L616.5,1232.6 L613.6,1232.7 L610.8,1232.9 L608.0,1233.0 L605.2,1233.1 L602.4,1233.2 L599.5,1233.4 L596.7,1233.5 L593.9,1233.6 L591.1,1233.7 L588.2,1233.8 L585.4,1233.9 L582.6,1234.0 L579.8,1234.0 L576.9,1234.1 L574.1,1234.2 L571.3,1234.3 L568.5,1234.4 L565.6,1234.4 L562.8,1234.5 L560.0,1234.6 L557.1,1234.6 L554.3,1234.7 L551.5,1234.7 L548.7,1234.8 L545.8,1234.8 L543.0,1234.8 L540.2,1234.9 L537.4,1234.9 L534.5,1234.9 L531.7,1235.0 L528.9,1235.0 L526.1,1235.0 L523.2,1235.0 L520.4,1235.1 L517.6,1235.1 L514.7,1235.1 L511.9,1235.1 L509.1,1235.1 L506.3,1235.1 L503.4,1235.1 L500.6,1235.1 L497.8,1235.1 L494.9,1235.0 L492.1,1235.0 L489.3,1235.0 L486.5,1235.0 L483.6,1235.0 L480.8,1234.9 L478.0,1234.9 L475.2,1234.9 L472.3,1234.8 L469.5,1234.8 L466.7,1234.8 L463.9,1234.7 L461.0,1234.7 L458.2,1234.6 L455.4,1234.6 L452.5,1234.5 L449.7,1234.5 L446.9,1234.4 L444.1,1234.4 L441.2,1234.3 L438.4,1234.2 L435.6,1234.2 L432.8,1234.1 L429.9,1234.0 L427.1,1233.9 L424.3,1233.9 L421.5,1233.8 L418.6,1233.7 L415.8,1233.6 L413.0,1233.5 L410.1,1233.4 L407.3,1233.4 L404.5,1233.3 L401.7,1233.2 L398.8,1233.1 L396.0,1233.0 L393.2,1232.9 L390.4,1232.8 L387.5,1232.7 L384.7,1232.6 L381.9,1232.4 L379.1,1232.3 L376.2,1232.2 L373.4,1232.1 L370.6,1232.0 L367.7,1231.9 L364.9,1231.8 L362.1,1231.6 L359.3,1231.5 L356.4,1231.4 L353.6,1231.3 L350.8,1231.1 L348.0,1231.0 L345.1,1230.9 L342.3,1230.7 L339.5,1230.6 L336.7,1230.4 L333.8,1230.3 L331.0,1230.2 L328.2,1230.0 L325.3,1229.9 L322.5,1229.7 L319.7,1229.6 L316.9,1229.4 L314.0,1229.2 L311.2,1229.1 L308.4,1228.9 L305.6,1228.7 L302.7,1228.6 L299.9,1228.4 L297.1,1228.2 L294.3,1228.0 L291.4,1227.9 L288.6,1227.7 L285.8,1227.5 L283.0,1227.3 L280.1,1227.1 L277.3,1226.9 L274.5,1226.7 L271.7,1226.5 L268.8,1226.3 L266.0,1226.1 L263.2,1225.9 L260.4,1225.7 L257.5,1225.5 L254.7,1225.3 L251.9,1225.0 L249.1,1224.8 L246.2,1224.6 L243.4,1224.4 L240.6,1224.2 L237.8,1223.9 L234.9,1223.7 L232.1,1223.5 L229.3,1223.2 L226.5,1223.0 L223.7,1222.8 L220.8,1222.5 L218.0,1222.3 L215.2,1222.1 L212.4,1221.8 L209.5,1221.6 L206.7,1221.3 L203.9,1221.1 L201.1,1220.8 L198.3,1220.6 L195.4,1220.3 L192.6,1220.1 L189.8,1219.8 L187.0,1219.6 L184.1,1219.3 L181.3,1219.0 L178.5,1218.8 L175.7,1218.5 L172.9,1218.3 L170.0,1218.0 L167.2,1217.7 L164.4,1217.4 L161.6,1217.2 L158.7,1216.9 L155.9,1216.6 L153.1,1216.4 L150.3,1216.1 L147.5,1215.8 L144.6,1215.5 L141.8,1215.2 L139.0,1215.0 L136.2,1214.7 L133.4,1214.4 L130.5,1214.1 L127.7,1213.8 L124.9,1213.5 L122.1,1213.2 L119.3,1212.9 L116.4,1212.7 L113.6,1212.4 L110.8,1212.1 L108.0,1211.8 L105.2,1211.5 L102.4,1211.2 L99.5,1210.9 L96.7,1210.6 L93.9,1210.3 L91.1,1210.0 L88.3,1209.7Z" fill="#0b1627"/>
<path d="M1818.0,1030.0 L1819.7,1030.0 L1821.4,1030.1 L1823.1,1030.1 L1824.9,1030.2 L1826.6,1030.2 L1828.3,1030.3 L1830.0,1030.3 L1831.7,1030.4 L1833.4,1030.4 L1835.1,1030.4 L1836.9,1030.5 L1838.6,1030.5 L1840.3,1030.6 L1842.0,1030.6 L1843.7,1030.7 L1845.4,1030.7 L1847.2,1030.7 L1848.9,1030.8 L1850.6,1030.8 L1852.3,1030.9 L1854.0,1030.9 L1855.8,1030.9 L1857.5,1031.0 L1859.2,1031.0 L1860.9,1031.0 L1862.7,1031.1 L1864.4,1031.1 L1866.1,1031.1 L1867.8,1031.2 L1869.5,1031.2 L1871.3,1031.2 L1873.0,1031.2 L1874.7,1031.3 L1876.4,1031.3 L1878.2,1031.3 L1879.9,1031.3 L1881.6,1031.4 L1883.4,1031.4 L1885.1,1031.4 L1886.8,1031.4 L1888.5,1031.4 L1890.3,1031.5 L1892.0,1031.5 L1893.7,1031.5 L1895.5,1031.5 L1897.2,1031.5 L1898.9,1031.5 L1900.6,1031.5 L1902.4,1031.5 L1904.1,1031.5 L1905.8,1031.5 L1907.6,1031.6 L1909.3,1031.6 L1911.0,1031.6 L1912.8,1031.6 L1914.5,1031.6 L1916.2,1031.6 L1918.0,1031.6 L1919.7,1031.6 L1921.4,1031.6 L1923.2,1031.6 L1924.9,1031.6 L1926.6,1031.5 L1928.4,1031.5 L1930.1,1031.5 L1931.8,1031.5 L1933.6,1031.5 L1935.3,1031.5 L1937.0,1031.5 L1938.8,1031.5 L1940.5,1031.4 L1942.2,1031.4 L1944.0,1031.4 L1945.7,1031.4 L1947.4,1031.3 L1949.2,1031.3 L1950.9,1031.3 L1952.6,1031.3 L1954.4,1031.2 L1956.1,1031.2 L1957.8,1031.2 L1959.6,1031.1 L1961.3,1031.1 L1963.0,1031.0 L1964.8,1031.0 L1966.5,1030.9 L1968.3,1030.9 L1970.0,1030.8 L1971.7,1030.8 L1973.5,1030.7 L1975.2,1030.7 L1976.9,1030.6 L1978.7,1030.5 L1980.4,1030.5 L1982.1,1030.4 L1983.9,1030.3 L1985.6,1030.2 L1987.3,1030.2 L1989.1,1030.1 L1990.8,1030.0 L1992.6,1029.9 L1994.3,1029.8 L1996.0,1029.7 L1997.8,1029.6 L1999.5,1029.5 L2001.2,1029.4 L2003.0,1029.3 L2004.7,1029.2 L2006.4,1029.1 L2008.2,1029.0 L2009.9,1028.9 L2011.6,1028.8 L2013.4,1028.6 L2015.1,1028.5 L2016.8,1028.4 L2018.6,1028.3 L2020.3,1028.1 L2022.0,1028.0 L2023.7,1027.9 L2025.5,1027.7 L2027.2,1027.6 L2028.9,1027.4 L2030.7,1027.3 L2032.4,1027.1 L2034.1,1027.0 L2035.9,1026.8 L2037.6,1026.7 L2039.3,1026.5 L2041.0,1026.3 L2042.8,1026.2 L2044.5,1026.0 L2046.2,1025.8 L2048.0,1025.7 L2049.7,1025.5 L2051.4,1025.3 L2053.1,1025.1 L2054.9,1024.9 L2056.6,1024.7 L2058.3,1024.5 L2060.0,1024.3 L2061.8,1024.1 L2063.5,1023.9 L2065.2,1023.7 L2066.9,1023.5 L2068.7,1023.3 L2070.4,1023.1 L2072.1,1022.9 L2073.8,1022.7 L2075.5,1022.4 L2077.3,1022.2 L2079.0,1022.0 L2080.7,1021.8 L2082.4,1021.5 L2084.1,1021.3 L2085.9,1021.0 L2087.6,1020.8 L2089.3,1020.5 L2091.0,1020.3 L2092.7,1020.0 L2094.5,1019.8 L2096.2,1019.5 L2097.9,1019.3 L2099.6,1019.0 L2101.3,1018.7 L2103.0,1018.5 L2104.7,1018.2 L2106.4,1017.9 L2108.2,1017.6 L2109.9,1017.3 L2111.6,1017.0 L2113.3,1016.7 L2115.0,1016.4 L2116.7,1016.1 L2118.4,1015.8 L2120.1,1015.5 L2121.8,1015.2 L2123.5,1014.9 L2125.2,1014.6 L2127.0,1014.3 L2128.7,1014.0 L2130.4,1013.6 L2132.1,1013.3 L2133.8,1013.0 L2135.5,1012.6 L2137.2,1012.3 L2138.9,1012.0 L2140.6,1011.6 L2142.3,1011.3 L2144.0,1010.9 L2145.7,1010.5 L2147.4,1010.2 L2149.1,1009.8 L2150.8,1009.5 L2152.5,1009.1 L2154.1,1008.7 L2155.8,1008.3 L2157.5,1007.9 L2159.2,1007.6 L2160.9,1007.2 L2162.6,1006.8 L2164.3,1006.4 L2166.0,1006.0 L2167.7,1005.6 L2169.4,1005.2 L2171.1,1004.8 L2172.7,1004.4 L2174.4,1003.9 L2176.1,1003.5 L2177.8,1003.1 L2179.5,1002.7 L2181.2,1002.2 L2182.9,1001.8 L2184.5,1001.4 L2186.2,1000.9 L2187.9,1000.5 L2189.6,1000.0 L2191.3,999.6 L2192.9,999.1 L2194.6,998.6 L2196.3,998.2 L2198.0,997.7 L2199.6,997.2 L2201.3,996.7 L2203.0,996.3 L2204.7,995.8 L2206.3,995.3 L2208.0,994.8 L2209.7,994.3 L2211.3,993.8 L2213.0,993.3 L2214.7,992.8 L2216.3,992.2 L2218.0,991.7 L2219.7,991.2 L2221.3,990.7 L2223.0,990.1 L2224.6,989.6 L2226.3,989.0 L2228.0,988.5 L2229.6,987.9 L2231.3,987.4 L2232.9,986.8 L2234.6,986.3 L2236.2,985.7 L2237.9,985.1 L2239.5,984.5 L2241.2,983.9 L2242.8,983.4 L2244.5,982.8 L2246.1,982.2 L2247.7,981.6 L2249.4,980.9 L2251.0,980.3 L2252.7,979.7 L2254.3,979.1 L2255.9,978.5 L2257.6,977.8 L2259.2,977.2 L2260.8,976.5 L2262.4,975.9 L2264.1,975.2 L2265.7,974.6 L2267.3,973.9 L2268.9,973.2 L2270.5,972.6 L2272.1,971.9 L2273.8,971.2 L2275.4,970.5 L2277.0,969.8 L2278.6,969.1 L2280.2,968.4 L2281.8,967.7 L2283.4,967.0 L2285.0,966.3 L2286.6,965.5 L2288.2,964.8 L2289.7,964.1 L2291.3,963.3 L2292.9,962.6 L2294.5,961.8 L2296.1,961.0 L2297.7,960.3 L2299.2,959.5 L2300.8,958.7 L2302.4,957.9 L2303.9,957.2 L2305.5,956.4 L2307.1,955.6 L2308.6,954.8 L2310.2,954.0 L2311.7,953.1 L2313.3,952.3 L2314.8,951.5 L2316.4,950.7 L2317.9,949.8 L2319.5,949.0 L2321.0,948.1 L2322.5,947.3 L2324.1,946.4 L2325.6,945.5 L2327.1,944.7 L2328.7,943.8 L2330.2,942.9 L2331.7,942.0 L2333.2,941.1 L2334.7,940.2 L2336.2,939.3 L2337.7,938.4 L2339.2,937.5 L2340.7,936.6 L2342.2,935.6 L2343.7,934.7 L2345.2,933.8 L2346.7,932.8 L2348.2,931.9 L2349.7,930.9 L2351.2,929.9 L2352.6,929.0 L2354.1,928.0 L2355.6,927.0 L2357.0,926.0 L2358.5,925.0 L2359.9,924.0 L2361.4,923.0 L2362.8,922.0 L2364.3,920.9 L2365.7,919.9 L2367.1,918.9 L2368.6,917.8 L2370.0,916.8 L2371.4,915.7 L2372.8,914.7 L2374.2,913.6 L2375.7,912.5 L2377.1,911.4 L2378.4,910.4 L2379.8,909.3 L2381.2,908.2 L2382.6,907.1 L2384.0,905.9 L2385.4,904.8 L2386.7,903.7 L2388.1,902.6 L2389.4,901.4 L2390.8,900.3 L2392.1,899.1 L2393.5,898.0 L2394.8,896.8 L2396.1,895.6 L2397.4,894.5 L2398.7,893.3 L2400.0,892.1 L2401.3,890.9 L2402.6,889.7 L2403.9,888.4 L2405.2,887.2 L2406.5,886.0 L2407.7,884.8 L2409.0,883.5 L2410.3,882.3 L2411.5,881.0 L2412.7,879.8 L2414.0,878.5 L2415.2,877.2 L2416.4,875.9 L2417.6,874.6 L2418.8,873.3 L2420.0,872.0 L2421.2,870.7 L2422.4,869.4 L2423.5,868.1 L2424.7,866.7 L2425.8,865.4 L2427.0,864.0 L2428.1,862.7 L2429.2,861.3 L2430.3,860.0 L2431.4,858.6 L2432.5,857.2 L2433.6,855.8 L2434.7,854.5 L2435.8,853.1 L2436.8,851.7 L2437.9,850.3 L2439.0,849.0 L2440.0,847.6 L2441.0,846.2 L2442.1,844.8 L2443.1,843.4 L2444.2,842.0 L2445.2,840.7 L2446.2,839.3 L2447.3,837.9 L2448.3,836.5 L2449.3,835.1 L2450.3,833.7 L2451.4,832.3 L2452.4,830.9 L2453.4,829.5 L2454.4,828.1 L2455.4,826.7 L2456.4,825.3 L2457.5,823.9 L2458.5,822.4 L2459.5,821.0 L2460.5,819.6 L2461.5,818.2 L2462.5,816.8 L2463.5,815.4 L2464.5,814.0 L2465.5,812.5 L2466.5,811.1 L2467.5,809.7 L2468.5,808.3 L2469.5,806.8 L2470.5,805.4 L2471.4,804.0 L2472.4,802.6 L2473.4,801.1 L2474.4,799.7 L2475.4,798.3 L2476.4,796.8 L2477.3,795.4 L2478.3,794.0 L2479.3,792.5 L2480.3,791.1 L2481.2,789.7 L2482.2,788.2 L2483.2,786.8 L2484.2,785.3 L2485.1,783.9 L2486.1,782.5 L2487.1,781.0 L2488.0,779.6 L2489.0,778.1 L2489.9,776.7 L2490.9,775.2 L2491.9,773.8 L2492.8,772.4 L2493.8,770.9 L2494.7,769.5 L2495.7,768.0 L2496.7,766.6 L2497.6,765.1 L2498.6,763.7 L2499.5,762.2 L2500.5,760.8 L2501.4,759.3 L2502.4,757.9 L2503.3,756.4 L2504.3,755.0 L2505.2,753.5 L2506.1,752.1 L2507.1,750.6 L2508.0,749.2 L2509.0,747.7 L2509.9,746.3 L2510.9,744.8 L2511.8,743.4 L2512.8,741.9 L2513.7,740.5 L2514.6,739.0 L2515.6,737.6 L2516.5,736.1 L2517.5,734.7 L2518.4,733.2 L2519.3,731.8 L2520.3,730.3 L2521.2,728.9 L2522.1,727.4 L2523.1,726.0 L2524.0,724.5 L2524.9,723.0 L2525.9,721.6 L2526.8,720.1 L2527.7,718.7 L2528.7,717.2 L2529.6,715.8 L2530.5,714.3 L2531.5,712.9 L2532.4,711.4 L2533.3,709.9 L2534.3,708.5 L2535.2,707.0 L2536.1,705.6 L2537.0,704.1 L2538.0,702.7 L2538.9,701.2 L2539.8,699.7 L2540.7,698.3 L2541.7,696.8 L2542.6,695.4 L2543.5,693.9 L2544.4,692.4 L2545.4,691.0 L2546.3,689.5 L2547.2,688.1 L2548.1,686.6 L2549.0,685.1 L2550.0,683.7 L2550.9,682.2 L2551.8,680.8 L2552.7,679.3 L2553.6,677.8 L2554.6,676.4 L2555.5,674.9 L2556.4,673.4 L2557.3,672.0 L2558.2,670.5 L2559.1,669.1 L2560.1,667.6 L2561.0,666.1 L2561.9,664.7 L2562.8,663.2 L2563.7,661.7 L2564.6,660.3 L2565.6,658.8 L2566.5,657.3 L2567.4,655.9 L2568.3,654.4 L2569.2,652.9 L2570.1,651.5 L2571.0,650.0 L2571.9,648.6 L2572.8,647.1 L2573.8,645.6 L2574.7,644.2 L2575.6,642.7 L2576.5,641.2 L2577.4,639.8 L2578.3,638.3 L2579.2,636.8 L2580.1,635.3 L2581.0,633.9 L2581.9,632.4 L2582.8,630.9 L2583.8,629.5 L2584.7,628.0 L2585.6,626.5 L2586.5,625.1 L2587.4,623.6 L2588.3,622.1 L2589.2,620.7 L2590.1,619.2 L2591.0,617.7 L2591.9,616.2 L2592.8,614.8 L2593.7,613.3 L2594.6,611.8 L2595.5,610.4 L2596.4,608.9 L2597.3,607.4 L2598.2,605.9 L2599.1,604.5 L2600.0,603.0 L2600.9,601.5 L2601.8,600.1 L2602.7,598.6 L2603.6,597.1 L2604.5,595.6 L2605.4,594.2 L2606.3,592.7 L2607.2,591.2 L2608.1,589.7 L2609.0,588.3 L2609.9,586.8 L2610.8,585.3 L2611.7,583.8 L2612.6,582.4 L2613.5,580.9 L2614.4,579.4 L2615.3,577.9 L2616.2,576.5 L2617.0,575.0 L2617.9,573.5 L2618.8,572.0 L2619.7,570.5 L2620.6,569.1 L2621.5,567.6 L2622.4,566.1 L2623.3,564.6 L2624.2,563.1 L2625.1,561.7 L2626.0,560.2 L2626.8,558.7 L2627.7,557.2 L2628.6,555.7 L2629.5,554.3 L2630.4,552.8 L2631.3,551.3 L2632.2,549.8 L2633.1,548.3 L2634.0,546.9 L2634.8,545.4 L2635.7,543.9 L2636.6,542.4 L2637.5,540.9 L2638.4,539.4 L2639.3,538.0 L2640.1,536.5 L2641.0,535.0 L2641.9,533.5 L2642.8,532.0 L2643.7,530.5 L2644.6,529.1 L2645.4,527.6 L2646.3,526.1 L2647.2,524.6 L2648.1,523.1 L2649.0,521.6 L2649.9,520.1 L2650.7,518.7 L2651.6,517.2 L2652.5,515.7 L2653.4,514.2 L2654.3,512.7 L2655.1,511.2 L2656.0,509.8 L2656.9,508.3 L2657.8,506.8 L2658.7,505.3 L2659.6,503.8 L2660.4,502.3 L2661.3,500.8 L2662.2,499.4 L2663.1,497.9 L2664.0,496.4 L2664.8,494.9 L2665.7,493.4 L2666.6,491.9 L2667.5,490.4 L2668.4,489.0 L2669.2,487.5 L2670.1,486.0 L2671.0,484.5 L2671.9,483.0 L2672.8,481.5 L2673.6,480.1 L2674.5,478.6 L2675.4,477.1 L2676.3,475.6 L2677.2,474.1 L2678.0,472.6 L2678.9,471.2 L2679.8,469.7 L2680.7,468.2 L2681.6,466.7 L2682.4,465.2 L2683.3,463.7 L2684.2,462.2 L2685.1,460.8 L2686.0,459.3 L2686.8,457.8 L2687.7,456.3 L2688.6,454.8 L2689.5,453.3 L2690.4,451.9 L2691.2,450.4 L2692.1,448.9 L2693.0,447.4 L2693.9,445.9 L2694.8,444.5 L2695.6,443.0 L2696.5,441.5 L2697.4,440.0 L2698.3,438.5 L2699.2,437.0 L2700.1,435.6 L2700.9,434.1 L2701.8,432.6 L2702.7,431.1 L2703.6,429.6 L2704.5,428.2 L2705.4,426.7 L2706.3,425.2 L2707.1,423.7 L2708.0,422.3 L2708.9,420.8 L2709.8,419.3 L2710.7,417.8 L2711.6,416.4 L2712.5,414.9 L2713.4,413.4 L2714.3,411.9 L2715.1,410.5 L2716.0,409.0 L2716.9,407.5 L2717.8,406.0 L2718.7,404.6 L2719.6,403.1 L2720.5,401.6 L2721.4,400.2 L2722.3,398.7 L2723.2,397.2 L2724.1,395.8 L2725.0,394.3 L2725.9,392.8 L2726.8,391.3 L2727.7,389.9 L2728.6,388.4 L2729.5,386.9 L2730.4,385.5 L2731.3,384.0 L2732.2,382.6 L2733.1,381.1 L2734.0,379.6 L2734.9,378.2 L2735.8,376.7 L2736.7,375.2 L2737.6,373.8 L2738.5,372.3 L2739.5,370.9 L2740.4,369.4 L2741.3,367.9 L2742.2,366.5 L2743.1,365.0 L2744.0,363.6 L2744.9,362.1 L2745.8,360.7 L2746.7,359.2 L2747.7,357.8 L2748.6,356.3 L2749.5,354.8 L2750.4,353.4 L2751.3,351.9 L2752.3,350.5 L2753.2,349.0 L2754.1,347.6 L2755.0,346.1 L2755.9,344.7 L2756.9,343.2 L2757.8,341.8 L2758.7,340.4 L2759.6,338.9 L2760.6,337.5 L2761.5,336.0 L2762.4,334.6 L2763.4,333.1 L2764.3,331.7 L2765.2,330.3 L2766.1,328.8 L2767.1,327.4 L2768.0,325.9 L2768.9,324.5 L2769.9,323.1 L2770.8,321.6 L2771.8,320.2 L2772.7,318.8 L2773.6,317.3 L2774.6,315.9 L2775.5,314.5 L2776.5,313.0 L2777.4,311.6 L2778.4,310.2 L2779.3,308.8 L2780.3,307.3 L2781.2,305.9 L2782.2,304.5 L2783.1,303.1 L2784.1,301.7 L2785.0,300.2 L2786.0,298.8 L2787.0,297.4 L2787.9,296.0 L2788.9,294.6 L2789.9,293.2 L2790.8,291.8 L2791.8,290.4 L2792.8,289.0 L2793.8,287.6 L2794.8,286.2 L2795.7,284.8 L2796.7,283.4 L2797.7,282.0 L2798.7,280.6 L2799.7,279.2 L2800.7,277.8 L2801.7,276.5 L2802.7,275.1 L2803.7,273.7 L2804.8,272.3 L2805.8,270.9 L2806.8,269.6 L2807.8,268.2 L2808.8,266.8 L2809.9,265.5 L2810.9,264.1 L2811.9,262.7 L2813.0,261.4 L2814.0,260.0 L2815.1,258.7 L2816.1,257.3 L2817.2,256.0 L2818.2,254.6 L2819.3,253.3 L2820.4,251.9 L2821.5,250.6 L2822.5,249.3 L2823.6,247.9 L2824.7,246.6 L2825.8,245.3 L2826.9,243.9 L2828.0,242.6 L2829.1,241.3 L2830.2,240.0 L2831.3,238.7 L2832.4,237.4 L2833.6,236.1 L2834.7,234.8 L2835.8,233.5 L2837.0,232.2 L2838.1,230.9 L2839.2,229.6 L2840.4,228.3 L2841.6,227.1 L2842.7,225.8 L2843.9,224.6 L2845.1,223.3 L2846.2,222.1 L2847.4,220.8 L2848.6,219.6 L2849.8,218.4 L2851.0,217.2 L2852.2,215.9 L2853.4,214.7 L2854.6,213.6 L2855.8,212.4 L2857.1,211.2 L2858.3,210.0 L2859.5,208.9 L2860.8,207.7 L2862.0,206.6 L2863.3,205.4 L2864.5,204.3 L2865.8,203.2 L2867.1,202.1 L2868.4,201.0 L2869.6,199.9 L2870.9,198.8 L2872.2,197.7 L2873.5,196.7 L2874.8,195.6 L2876.2,194.6 L2877.5,193.6 L2878.8,192.6 L2880.2,191.6 L2881.5,190.6 L2882.8,189.6 L2884.2,188.6 L2885.6,187.7 L2886.9,186.7 L2888.3,185.8 L2889.7,184.9 L2891.1,183.9 L2892.5,183.0 L2893.9,182.1 L2895.3,181.3 L2896.7,180.4 L2898.1,179.5 L2899.6,178.7 L2901.0,177.9 L2902.4,177.1 L2903.9,176.3 L2905.4,175.5 L2906.9,174.7 L2908.3,174.0 L2909.8,173.3 L2911.4,172.6 L2912.9,171.9 L2914.4,171.2 L2915.9,170.6 L2917.5,169.9 L2919.1,169.3 L2920.6,168.7 L2922.2,168.2 L2923.8,167.6 L2925.4,167.1 L2927.0,166.6 L2928.6,166.1 L2930.2,165.7 L2931.8,165.2 L2933.4,164.8 L2935.0,164.5 L2936.6,164.1 L2938.3,163.8 L2939.9,163.5 L2941.5,163.2 L2943.2,163.0 L2944.8,162.8 L2946.5,162.6 L2948.1,162.4 L2949.8,162.3 L2951.5,162.2 L2953.1,162.2 L2954.8,162.2 L2956.4,162.2 L2958.1,162.2 L2959.8,162.3 L2961.5,162.5 L2962.2,155.5 L2960.4,155.3 L2958.6,155.1 L2956.7,155.0 L2954.9,154.9 L2953.1,154.9 L2951.3,154.9 L2949.5,154.9 L2947.7,154.9 L2945.9,155.0 L2944.1,155.2 L2942.3,155.4 L2940.5,155.6 L2938.7,155.8 L2936.9,156.1 L2935.2,156.3 L2933.4,156.7 L2931.6,157.0 L2929.9,157.4 L2928.1,157.8 L2926.4,158.3 L2924.7,158.7 L2923.0,159.2 L2921.3,159.7 L2919.6,160.2 L2917.9,160.8 L2916.2,161.4 L2914.5,161.9 L2912.8,162.6 L2911.2,163.2 L2909.5,163.8 L2907.9,164.4 L2906.2,165.1 L2904.6,165.8 L2903.0,166.5 L2901.4,167.2 L2899.8,167.9 L2898.2,168.6 L2896.6,169.4 L2895.0,170.2 L2893.4,170.9 L2891.9,171.7 L2890.3,172.5 L2888.7,173.4 L2887.2,174.2 L2885.7,175.1 L2884.1,176.0 L2882.6,176.9 L2881.1,177.8 L2879.6,178.7 L2878.1,179.6 L2876.7,180.6 L2875.2,181.6 L2873.7,182.6 L2872.3,183.6 L2870.9,184.6 L2869.4,185.6 L2868.0,186.6 L2866.6,187.7 L2865.2,188.8 L2863.8,189.8 L2862.4,190.9 L2861.0,192.0 L2859.6,193.1 L2858.2,194.2 L2856.9,195.4 L2855.5,196.5 L2854.2,197.6 L2852.8,198.8 L2851.5,200.0 L2850.2,201.1 L2848.8,202.3 L2847.5,203.5 L2846.2,204.7 L2844.9,205.9 L2843.6,207.1 L2842.3,208.4 L2841.1,209.6 L2839.8,210.8 L2838.5,212.1 L2837.3,213.3 L2836.0,214.6 L2834.8,215.8 L2833.5,217.1 L2832.3,218.4 L2831.1,219.7 L2829.9,221.0 L2828.6,222.2 L2827.4,223.5 L2826.2,224.8 L2825.0,226.2 L2823.8,227.5 L2822.7,228.8 L2821.5,230.1 L2820.3,231.4 L2819.1,232.7 L2818.0,234.1 L2816.8,235.4 L2815.7,236.7 L2814.5,238.1 L2813.4,239.4 L2812.2,240.7 L2811.1,242.1 L2810.0,243.4 L2808.9,244.8 L2807.7,246.1 L2806.6,247.5 L2805.5,248.8 L2804.4,250.2 L2803.3,251.6 L2802.2,252.9 L2801.1,254.3 L2800.0,255.7 L2799.0,257.0 L2797.9,258.4 L2796.8,259.8 L2795.7,261.2 L2794.7,262.5 L2793.6,263.9 L2792.5,265.3 L2791.5,266.7 L2790.4,268.1 L2789.4,269.5 L2788.3,270.9 L2787.3,272.2 L2786.3,273.6 L2785.2,275.0 L2784.2,276.4 L2783.2,277.8 L2782.1,279.2 L2781.1,280.6 L2780.1,282.0 L2779.1,283.4 L2778.0,284.8 L2777.0,286.3 L2776.0,287.7 L2775.0,289.1 L2774.0,290.5 L2773.0,291.9 L2772.0,293.3 L2771.0,294.7 L2770.0,296.2 L2769.0,297.6 L2768.0,299.0 L2767.0,300.4 L2766.1,301.8 L2765.1,303.3 L2764.1,304.7 L2763.1,306.1 L2762.1,307.5 L2761.2,309.0 L2760.2,310.4 L2759.2,311.8 L2758.2,313.2 L2757.3,314.7 L2756.3,316.1 L2755.3,317.5 L2754.4,319.0 L2753.4,320.4 L2752.4,321.8 L2751.5,323.3 L2750.5,324.7 L2749.6,326.1 L2748.6,327.6 L2747.6,329.0 L2746.7,330.5 L2745.7,331.9 L2744.8,333.3 L2743.8,334.8 L2742.9,336.2 L2741.9,337.6 L2741.0,339.1 L2740.0,340.5 L2739.1,342.0 L2738.1,343.4 L2737.2,344.9 L2736.2,346.3 L2735.3,347.7 L2734.3,349.2 L2733.4,350.6 L2732.4,352.1 L2731.5,353.5 L2730.6,355.0 L2729.6,356.4 L2728.7,357.9 L2727.7,359.3 L2726.8,360.8 L2725.9,362.2 L2724.9,363.7 L2724.0,365.1 L2723.0,366.6 L2722.1,368.0 L2721.2,369.5 L2720.2,370.9 L2719.3,372.4 L2718.4,373.9 L2717.4,375.3 L2716.5,376.8 L2715.6,378.2 L2714.6,379.7 L2713.7,381.1 L2712.8,382.6 L2711.9,384.0 L2710.9,385.5 L2710.0,387.0 L2709.1,388.4 L2708.2,389.9 L2707.2,391.3 L2706.3,392.8 L2705.4,394.3 L2704.5,395.7 L2703.5,397.2 L2702.6,398.7 L2701.7,400.1 L2700.8,401.6 L2699.8,403.0 L2698.9,404.5 L2698.0,406.0 L2697.1,407.4 L2696.2,408.9 L2695.2,410.4 L2694.3,411.8 L2693.4,413.3 L2692.5,414.7 L2691.6,416.2 L2690.7,417.7 L2689.7,419.1 L2688.8,420.6 L2687.9,422.1 L2687.0,423.5 L2686.1,425.0 L2685.2,426.5 L2684.2,427.9 L2683.3,429.4 L2682.4,430.9 L2681.5,432.3 L2680.6,433.8 L2679.7,435.3 L2678.8,436.8 L2677.9,438.2 L2676.9,439.7 L2676.0,441.2 L2675.1,442.6 L2674.2,444.1 L2673.3,445.6 L2672.4,447.0 L2671.5,448.5 L2670.6,450.0 L2669.7,451.5 L2668.8,452.9 L2667.9,454.4 L2667.0,455.9 L2666.1,457.3 L2665.2,458.8 L2664.2,460.3 L2663.3,461.8 L2662.4,463.2 L2661.5,464.7 L2660.6,466.2 L2659.7,467.7 L2658.8,469.1 L2657.9,470.6 L2657.0,472.1 L2656.1,473.6 L2655.2,475.0 L2654.3,476.5 L2653.4,478.0 L2652.5,479.5 L2651.6,480.9 L2650.7,482.4 L2649.8,483.9 L2648.9,485.4 L2648.0,486.8 L2647.2,488.3 L2646.3,489.8 L2645.4,491.3 L2644.5,492.7 L2643.6,494.2 L2642.7,495.7 L2641.8,497.2 L2640.9,498.6 L2640.0,500.1 L2639.1,501.6 L2638.2,503.1 L2637.3,504.5 L2636.4,506.0 L2635.5,507.5 L2634.6,509.0 L2633.7,510.5 L2632.8,511.9 L2631.9,513.4 L2631.0,514.9 L2630.1,516.4 L2629.2,517.8 L2628.3,519.3 L2627.4,520.8 L2626.5,522.3 L2625.7,523.7 L2624.8,525.2 L2623.9,526.7 L2623.0,528.2 L2622.1,529.6 L2621.2,531.1 L2620.3,532.6 L2619.4,534.1 L2618.5,535.5 L2617.6,537.0 L2616.7,538.5 L2615.8,540.0 L2614.9,541.4 L2614.0,542.9 L2613.1,544.4 L2612.2,545.8 L2611.3,547.3 L2610.4,548.8 L2609.5,550.3 L2608.7,551.7 L2607.8,553.2 L2606.9,554.7 L2606.0,556.2 L2605.1,557.6 L2604.2,559.1 L2603.3,560.6 L2602.4,562.0 L2601.5,563.5 L2600.6,565.0 L2599.7,566.5 L2598.8,567.9 L2597.9,569.4 L2597.0,570.9 L2596.1,572.3 L2595.2,573.8 L2594.3,575.3 L2593.4,576.7 L2592.5,578.2 L2591.6,579.7 L2590.7,581.2 L2589.8,582.6 L2588.9,584.1 L2588.0,585.6 L2587.1,587.0 L2586.2,588.5 L2585.3,590.0 L2584.4,591.4 L2583.5,592.9 L2582.6,594.4 L2581.7,595.8 L2580.8,597.3 L2579.9,598.8 L2579.0,600.2 L2578.1,601.7 L2577.2,603.2 L2576.3,604.6 L2575.4,606.1 L2574.5,607.5 L2573.6,609.0 L2572.7,610.5 L2571.8,611.9 L2570.9,613.4 L2570.0,614.9 L2569.0,616.3 L2568.1,617.8 L2567.2,619.3 L2566.3,620.7 L2565.4,622.2 L2564.5,623.6 L2563.6,625.1 L2562.7,626.6 L2561.8,628.0 L2560.9,629.5 L2560.0,630.9 L2559.1,632.4 L2558.1,633.9 L2557.2,635.3 L2556.3,636.8 L2555.4,638.2 L2554.5,639.7 L2553.6,641.2 L2552.7,642.6 L2551.8,644.1 L2550.8,645.5 L2549.9,647.0 L2549.0,648.5 L2548.1,649.9 L2547.2,651.4 L2546.3,652.8 L2545.3,654.3 L2544.4,655.7 L2543.5,657.2 L2542.6,658.6 L2541.7,660.1 L2540.8,661.6 L2539.8,663.0 L2538.9,664.5 L2538.0,665.9 L2537.1,667.4 L2536.1,668.8 L2535.2,670.3 L2534.3,671.7 L2533.4,673.2 L2532.5,674.6 L2531.5,676.1 L2530.6,677.5 L2529.7,679.0 L2528.8,680.4 L2527.8,681.9 L2526.9,683.3 L2526.0,684.8 L2525.1,686.2 L2524.1,687.7 L2523.2,689.1 L2522.3,690.6 L2521.3,692.0 L2520.4,693.5 L2519.5,694.9 L2518.5,696.4 L2517.6,697.8 L2516.7,699.3 L2515.8,700.7 L2514.8,702.2 L2513.9,703.6 L2513.0,705.1 L2512.0,706.5 L2511.1,708.0 L2510.2,709.4 L2509.2,710.9 L2508.3,712.3 L2507.4,713.8 L2506.4,715.2 L2505.5,716.7 L2504.5,718.1 L2503.6,719.5 L2502.7,721.0 L2501.7,722.4 L2500.8,723.9 L2499.9,725.3 L2498.9,726.8 L2498.0,728.2 L2497.0,729.7 L2496.1,731.1 L2495.2,732.6 L2494.2,734.0 L2493.3,735.4 L2492.3,736.9 L2491.4,738.3 L2490.4,739.8 L2489.5,741.2 L2488.6,742.7 L2487.6,744.1 L2486.7,745.5 L2485.7,747.0 L2484.8,748.4 L2483.8,749.9 L2482.9,751.3 L2481.9,752.7 L2481.0,754.2 L2480.0,755.6 L2479.1,757.1 L2478.1,758.5 L2477.2,760.0 L2476.2,761.4 L2475.3,762.8 L2474.3,764.3 L2473.4,765.7 L2472.5,767.2 L2471.5,768.6 L2470.6,770.0 L2469.6,771.5 L2468.6,772.9 L2467.7,774.3 L2466.7,775.8 L2465.8,777.2 L2464.8,778.6 L2463.9,780.1 L2462.9,781.5 L2462.0,782.9 L2461.0,784.4 L2460.1,785.8 L2459.1,787.2 L2458.1,788.6 L2457.2,790.1 L2456.2,791.5 L2455.3,792.9 L2454.3,794.3 L2453.3,795.8 L2452.4,797.2 L2451.4,798.6 L2450.4,800.0 L2449.5,801.4 L2448.5,802.8 L2447.5,804.2 L2446.6,805.6 L2445.6,807.1 L2444.6,808.5 L2443.6,809.9 L2442.6,811.3 L2441.7,812.7 L2440.7,814.1 L2439.7,815.5 L2438.7,816.8 L2437.7,818.2 L2436.7,819.6 L2435.8,821.0 L2434.8,822.4 L2433.8,823.8 L2432.8,825.2 L2431.8,826.5 L2430.8,827.9 L2429.8,829.3 L2428.8,830.7 L2427.8,832.0 L2426.8,833.4 L2425.8,834.8 L2424.7,836.1 L2423.7,837.5 L2422.7,838.8 L2421.7,840.2 L2420.7,841.5 L2419.7,842.8 L2418.7,844.2 L2417.6,845.5 L2416.6,846.8 L2415.6,848.1 L2414.6,849.4 L2413.5,850.7 L2412.5,852.0 L2411.4,853.3 L2410.4,854.5 L2409.3,855.8 L2408.2,857.0 L2407.1,858.3 L2406.0,859.5 L2404.9,860.8 L2403.8,862.0 L2402.7,863.2 L2401.6,864.4 L2400.5,865.6 L2399.3,866.9 L2398.2,868.1 L2397.0,869.2 L2395.9,870.4 L2394.7,871.6 L2393.5,872.8 L2392.3,874.0 L2391.1,875.1 L2389.9,876.3 L2388.7,877.5 L2387.5,878.6 L2386.3,879.7 L2385.1,880.9 L2383.8,882.0 L2382.6,883.1 L2381.4,884.3 L2380.1,885.4 L2378.8,886.5 L2377.6,887.6 L2376.3,888.7 L2375.0,889.8 L2373.7,890.8 L2372.5,891.9 L2371.2,893.0 L2369.9,894.1 L2368.5,895.1 L2367.2,896.2 L2365.9,897.2 L2364.6,898.3 L2363.3,899.3 L2361.9,900.4 L2360.6,901.4 L2359.2,902.4 L2357.9,903.4 L2356.5,904.4 L2355.2,905.4 L2353.8,906.4 L2352.4,907.4 L2351.1,908.4 L2349.7,909.4 L2348.3,910.4 L2346.9,911.4 L2345.5,912.3 L2344.1,913.3 L2342.7,914.2 L2341.3,915.2 L2339.9,916.1 L2338.5,917.1 L2337.1,918.0 L2335.7,919.0 L2334.3,919.9 L2332.8,920.8 L2331.4,921.7 L2330.0,922.6 L2328.5,923.5 L2327.1,924.4 L2325.7,925.3 L2324.2,926.2 L2322.8,927.1 L2321.3,928.0 L2319.9,928.9 L2318.4,929.7 L2317.0,930.6 L2315.5,931.4 L2314.0,932.3 L2312.6,933.1 L2311.1,934.0 L2309.6,934.8 L2308.1,935.7 L2306.7,936.5 L2305.2,937.3 L2303.7,938.1 L2302.2,938.9 L2300.7,939.7 L2299.2,940.5 L2297.7,941.3 L2296.2,942.1 L2294.7,942.9 L2293.2,943.7 L2291.7,944.5 L2290.2,945.3 L2288.7,946.0 L2287.1,946.8 L2285.6,947.5 L2284.1,948.3 L2282.6,949.0 L2281.0,949.8 L2279.5,950.5 L2278.0,951.3 L2276.5,952.0 L2274.9,952.7 L2273.4,953.4 L2271.8,954.2 L2270.3,954.9 L2268.7,955.6 L2267.2,956.3 L2265.6,957.0 L2264.1,957.7 L2262.5,958.4 L2261.0,959.0 L2259.4,959.7 L2257.9,960.4 L2256.3,961.1 L2254.7,961.7 L2253.2,962.4 L2251.6,963.1 L2250.0,963.7 L2248.4,964.4 L2246.9,965.0 L2245.3,965.7 L2243.7,966.3 L2242.1,966.9 L2240.5,967.6 L2239.0,968.2 L2237.4,968.8 L2235.8,969.4 L2234.2,970.0 L2232.6,970.6 L2231.0,971.2 L2229.4,971.8 L2227.8,972.4 L2226.2,973.0 L2224.6,973.6 L2223.0,974.2 L2221.4,974.7 L2219.8,975.3 L2218.2,975.9 L2216.6,976.5 L2215.0,977.0 L2213.4,977.6 L2211.7,978.1 L2210.1,978.7 L2208.5,979.2 L2206.9,979.7 L2205.3,980.3 L2203.6,980.8 L2202.0,981.3 L2200.4,981.9 L2198.8,982.4 L2197.1,982.9 L2195.5,983.4 L2193.9,983.9 L2192.3,984.4 L2190.6,984.9 L2189.0,985.4 L2187.4,985.9 L2185.7,986.4 L2184.1,986.8 L2182.5,987.3 L2180.8,987.8 L2179.2,988.3 L2177.5,988.7 L2175.9,989.2 L2174.2,989.6 L2172.6,990.1 L2171.0,990.5 L2169.3,991.0 L2167.7,991.4 L2166.0,991.8 L2164.4,992.3 L2162.7,992.7 L2161.1,993.1 L2159.4,993.5 L2157.8,994.0 L2156.1,994.4 L2154.4,994.8 L2152.8,995.2 L2151.1,995.6 L2149.5,996.0 L2147.8,996.4 L2146.1,996.8 L2144.5,997.1 L2142.8,997.5 L2141.1,997.9 L2139.5,998.3 L2137.8,998.6 L2136.1,999.0 L2134.5,999.4 L2132.8,999.7 L2131.1,1000.1 L2129.5,1000.4 L2127.8,1000.8 L2126.1,1001.1 L2124.4,1001.4 L2122.8,1001.8 L2121.1,1002.1 L2119.4,1002.4 L2117.7,1002.8 L2116.1,1003.1 L2114.4,1003.4 L2112.7,1003.7 L2111.0,1004.0 L2109.3,1004.3 L2107.7,1004.7 L2106.0,1005.0 L2104.3,1005.3 L2102.6,1005.6 L2100.9,1005.8 L2099.2,1006.1 L2097.6,1006.4 L2095.9,1006.7 L2094.2,1007.0 L2092.5,1007.3 L2090.8,1007.5 L2089.1,1007.8 L2087.4,1008.1 L2085.7,1008.3 L2084.0,1008.6 L2082.3,1008.8 L2080.6,1009.1 L2078.9,1009.4 L2077.3,1009.6 L2075.6,1009.8 L2073.9,1010.1 L2072.2,1010.3 L2070.5,1010.6 L2068.8,1010.8 L2067.1,1011.0 L2065.4,1011.3 L2063.7,1011.5 L2062.0,1011.7 L2060.3,1011.9 L2058.6,1012.1 L2056.9,1012.4 L2055.2,1012.6 L2053.5,1012.8 L2051.8,1013.0 L2050.1,1013.2 L2048.3,1013.4 L2046.6,1013.6 L2044.9,1013.8 L2043.2,1014.0 L2041.5,1014.2 L2039.8,1014.4 L2038.1,1014.5 L2036.4,1014.7 L2034.7,1014.9 L2033.0,1015.1 L2031.3,1015.3 L2029.6,1015.4 L2027.9,1015.6 L2026.1,1015.8 L2024.4,1015.9 L2022.7,1016.1 L2021.0,1016.3 L2019.3,1016.4 L2017.6,1016.6 L2015.9,1016.7 L2014.2,1016.9 L2012.4,1017.0 L2010.7,1017.2 L2009.0,1017.3 L2007.3,1017.5 L2005.6,1017.6 L2003.9,1017.8 L2002.2,1017.9 L2000.4,1018.0 L1998.7,1018.2 L1997.0,1018.3 L1995.3,1018.4 L1993.6,1018.6 L1991.8,1018.7 L1990.1,1018.8 L1988.4,1019.0 L1986.7,1019.1 L1985.0,1019.2 L1983.3,1019.3 L1981.5,1019.4 L1979.8,1019.6 L1978.1,1019.7 L1976.4,1019.8 L1974.7,1019.9 L1972.9,1020.0 L1971.2,1020.1 L1969.5,1020.2 L1967.8,1020.3 L1966.1,1020.4 L1964.3,1020.5 L1962.6,1020.6 L1960.9,1020.7 L1959.2,1020.8 L1957.5,1020.9 L1955.7,1021.0 L1954.0,1021.1 L1952.3,1021.2 L1950.6,1021.3 L1948.8,1021.4 L1947.1,1021.5 L1945.4,1021.5 L1943.7,1021.6 L1941.9,1021.7 L1940.2,1021.8 L1938.5,1021.8 L1936.8,1021.9 L1935.1,1022.0 L1933.3,1022.1 L1931.6,1022.1 L1929.9,1022.2 L1928.2,1022.3 L1926.4,1022.3 L1924.7,1022.4 L1923.0,1022.4 L1921.3,1022.5 L1919.5,1022.6 L1917.8,1022.6 L1916.1,1022.7 L1914.4,1022.7 L1912.7,1022.7 L1910.9,1022.8 L1909.2,1022.8 L1907.5,1022.9 L1905.8,1022.9 L1904.0,1022.9 L1902.3,1023.0 L1900.6,1023.0 L1898.9,1023.0 L1897.1,1023.1 L1895.4,1023.1 L1893.7,1023.1 L1892.0,1023.1 L1890.3,1023.2 L1888.5,1023.2 L1886.8,1023.2 L1885.1,1023.2 L1883.4,1023.2 L1881.6,1023.3 L1879.9,1023.3 L1878.2,1023.3 L1876.5,1023.3 L1874.8,1023.3 L1873.0,1023.3 L1871.3,1023.3 L1869.6,1023.3 L1867.9,1023.3 L1866.2,1023.3 L1864.4,1023.3 L1862.7,1023.3 L1861.0,1023.3 L1859.3,1023.3 L1857.6,1023.3 L1855.9,1023.3 L1854.1,1023.3 L1852.4,1023.3 L1850.7,1023.3 L1849.0,1023.3 L1847.3,1023.3 L1845.6,1023.3 L1843.8,1023.3 L1842.1,1023.3 L1840.4,1023.2 L1838.7,1023.2 L1837.0,1023.2 L1835.3,1023.2 L1833.6,1023.2 L1831.8,1023.2 L1830.1,1023.1 L1828.4,1023.1 L1826.7,1023.1 L1825.0,1023.1 L1823.3,1023.0 L1821.6,1023.0 L1819.9,1023.0 L1818.2,1023.0Z" fill="#ffd300"/>
</svg>
<div class="t" style="left:39.65px;top:36.72px;font-size:80.23px;color:#0c1628;transform:scaleX(0.9466);-webkit-text-stroke:0.5px #0c1628;">COVID-19</div>
<div class="t" style="left:411.47px;top:36.72px;font-size:80.23px;color:#0c1628;transform:scaleX(0.9582);-webkit-text-stroke:0.5px #0c1628;">and</div>
<div class="t" style="left:562.62px;top:36.72px;font-size:80.23px;color:#0c1628;transform:scaleX(1.0306);-webkit-text-stroke:0.5px #0c1628;">the</div>
<div class="t" style="left:699.41px;top:36.72px;font-size:80.23px;color:#0c1628;transform:scaleX(1.0255);-webkit-text-stroke:0.5px #0c1628;">migration</div>
<div class="t" style="left:1059.28px;top:36.72px;font-size:80.23px;color:#0c1628;transform:scaleX(1.0818);-webkit-text-stroke:0.5px #0c1628;">to</div>
<div class="t" style="left:1153.10px;top:36.72px;font-size:80.23px;color:#0c1628;transform:scaleX(0.7934);-webkit-text-stroke:0.5px #0c1628;">a</div>
<div class="t" style="left:1215.06px;top:36.72px;font-size:80.23px;color:#0c1628;transform:scaleX(0.9334);-webkit-text-stroke:0.5px #0c1628;">new</div>
<div class="t" style="left:1376.21px;top:36.72px;font-size:80.23px;color:#0c1628;transform:scaleX(0.9822);-webkit-text-stroke:0.5px #0c1628;">S-curve</div>
<div class="t" style="left:2129.06px;top:272.53px;font-size:53.63px;color:#4b5866;transform:scaleX(0.9266);-webkit-text-stroke:0.6px #f5f5f5;">The</div>
<div class="t" style="left:2228.09px;top:272.53px;font-size:53.63px;color:#4b5866;transform:scaleX(1.0124);-webkit-text-stroke:0.6px #f5f5f5;">better</div>
<div class="t" style="left:2383.35px;top:272.53px;font-size:53.63px;color:#4b5866;transform:scaleX(0.9683);-webkit-text-stroke:0.6px #f5f5f5;">world</div>
<div class="t" style="left:2520.53px;top:272.53px;font-size:53.63px;color:#4b5866;transform:scaleX(0.9406);-webkit-text-stroke:0.6px #f5f5f5;">S-curve</div>
<div class="t" style="left:214.36px;top:1128.74px;font-size:52.91px;color:#4b5866;transform:scaleX(0.9359);-webkit-text-stroke:0.6px #f5f5f5;">The</div>
<div class="t" style="left:313.17px;top:1128.74px;font-size:52.91px;color:#4b5866;transform:scaleX(0.9692);-webkit-text-stroke:0.6px #f5f5f5;">post-war</div>
<div class="t" style="left:523.83px;top:1128.74px;font-size:52.91px;color:#4b5866;transform:scaleX(0.9535);-webkit-text-stroke:0.6px #f5f5f5;">S-curve</div>
<div class="t" style="left:67.60px;top:1328.85px;font-size:40.84px;color:#4b5866;transform:scaleX(0.9571);-webkit-text-stroke:0.5px #f5f5f5;">World</div>
<div class="t" style="left:180.80px;top:1328.85px;font-size:40.84px;color:#4b5866;transform:scaleX(0.9216);-webkit-text-stroke:0.5px #f5f5f5;">War</div>
<div class="t" style="left:259.39px;top:1328.85px;font-size:40.84px;color:#4b5866;transform:scaleX(0.9278);-webkit-text-stroke:0.5px #f5f5f5;">II</div>
<div class="t" style="left:387.86px;top:1328.85px;font-size:40.84px;color:#4b5866;transform:scaleX(0.9477);-webkit-text-stroke:0.5px #f5f5f5;">Global</div>
<div class="t" style="left:509.61px;top:1328.85px;font-size:40.84px;color:#4b5866;transform:scaleX(1.0181);-webkit-text-stroke:0.5px #f5f5f5;">industrialization</div>
<div class="t" style="left:1064.81px;top:1328.85px;font-size:40.84px;color:#4b5866;transform:scaleX(0.9726);-webkit-text-stroke:0.5px #f5f5f5;">Technology</div>
<div class="t" style="left:1277.35px;top:1328.85px;font-size:40.84px;color:#4b5866;transform:scaleX(1.0121);-webkit-text-stroke:0.5px #f5f5f5;">efficiency</div>
<div class="t" style="left:1459.46px;top:1328.85px;font-size:40.84px;color:#4b5866;transform:scaleX(0.9968);-webkit-text-stroke:0.5px #f5f5f5;">boom</div>
<div class="t" style="left:1769.66px;top:1328.85px;font-size:40.84px;color:#4b5866;transform:scaleX(0.9613);-webkit-text-stroke:0.5px #f5f5f5;">Pandemic</div>
<div class="t" style="left:1953.59px;top:1328.85px;font-size:40.84px;color:#4b5866;transform:scaleX(0.9828);-webkit-text-stroke:0.5px #f5f5f5;">reset</div>
<div class="t" style="left:2087.11px;top:1328.85px;font-size:40.84px;color:#4b5866;transform:scaleX(1.0083);-webkit-text-stroke:0.5px #f5f5f5;">Migration</div>
<div class="t" style="left:2266.36px;top:1328.85px;font-size:40.84px;color:#4b5866;transform:scaleX(1.0861);-webkit-text-stroke:0.5px #f5f5f5;">to</div>
<div class="t" style="left:2311.87px;top:1328.85px;font-size:40.84px;color:#4b5866;transform:scaleX(0.9505);-webkit-text-stroke:0.5px #f5f5f5;">new</div>
<div class="t" style="left:2393.42px;top:1328.85px;font-size:40.84px;color:#4b5866;transform:scaleX(0.9706);-webkit-text-stroke:0.5px #f5f5f5;">S-curve</div>
<div class="t" style="left:2600.65px;top:1328.85px;font-size:40.84px;color:#4b5866;transform:scaleX(0.9335);-webkit-text-stroke:0.5px #f5f5f5;">New</div>
<div class="t" style="left:2688.55px;top:1328.85px;font-size:40.84px;color:#4b5866;transform:scaleX(0.9604);-webkit-text-stroke:0.5px #f5f5f5;">renaissance</div>
</body></html>
